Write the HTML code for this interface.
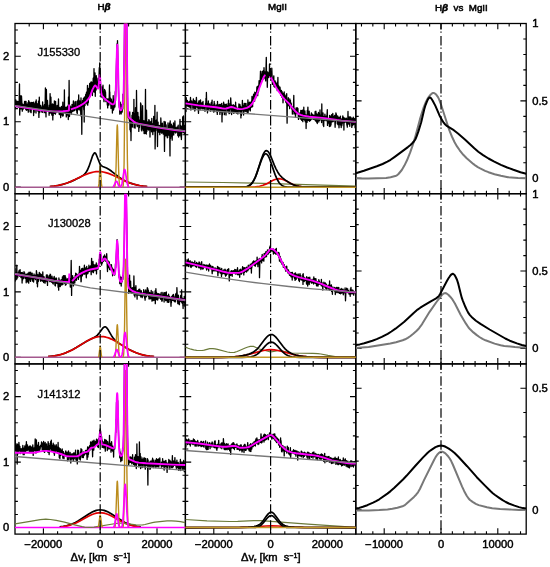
<!DOCTYPE html>
<html><head><meta charset="utf-8"><style>html,body{margin:0;padding:0;background:#fff;width:550px;height:567px;overflow:hidden}svg{display:block}</style></head>
<body><svg width="550" height="567" viewBox="0 0 550 567"><defs>
<clipPath id="cp00"><rect x="15.00" y="23.50" width="170.40" height="170.20"/></clipPath>
<clipPath id="cp01"><rect x="185.40" y="23.50" width="170.40" height="170.20"/></clipPath>
<clipPath id="cp02"><rect x="355.80" y="23.50" width="170.40" height="170.20"/></clipPath>
<clipPath id="cp10"><rect x="15.00" y="193.70" width="170.40" height="170.20"/></clipPath>
<clipPath id="cp11"><rect x="185.40" y="193.70" width="170.40" height="170.20"/></clipPath>
<clipPath id="cp12"><rect x="355.80" y="193.70" width="170.40" height="170.20"/></clipPath>
<clipPath id="cp20"><rect x="15.00" y="363.90" width="170.40" height="170.20"/></clipPath>
<clipPath id="cp21"><rect x="185.40" y="363.90" width="170.40" height="170.20"/></clipPath>
<clipPath id="cp22"><rect x="355.80" y="363.90" width="170.40" height="170.20"/></clipPath>
</defs>
<path d="M29.20 193.70L29.20 190.80M29.20 23.50L29.20 26.40M43.40 193.70L43.40 187.90M43.40 23.50L43.40 29.30M57.60 193.70L57.60 190.80M57.60 23.50L57.60 26.40M71.80 193.70L71.80 190.80M71.80 23.50L71.80 26.40M86.00 193.70L86.00 190.80M86.00 23.50L86.00 26.40M100.20 193.70L100.20 187.90M100.20 23.50L100.20 29.30M114.40 193.70L114.40 190.80M114.40 23.50L114.40 26.40M128.60 193.70L128.60 190.80M128.60 23.50L128.60 26.40M142.80 193.70L142.80 190.80M142.80 23.50L142.80 26.40M157.00 193.70L157.00 187.90M157.00 23.50L157.00 29.30M171.20 193.70L171.20 190.80M171.20 23.50L171.20 26.40M15.00 187.15L20.80 187.15M185.40 187.15L179.60 187.15M15.00 174.06L17.90 174.06M185.40 174.06L182.50 174.06M15.00 160.97L17.90 160.97M185.40 160.97L182.50 160.97M15.00 147.88L17.90 147.88M185.40 147.88L182.50 147.88M15.00 134.78L17.90 134.78M185.40 134.78L182.50 134.78M15.00 121.69L20.80 121.69M185.40 121.69L179.60 121.69M15.00 108.60L17.90 108.60M185.40 108.60L182.50 108.60M15.00 95.51L17.90 95.51M185.40 95.51L182.50 95.51M15.00 82.42L17.90 82.42M185.40 82.42L182.50 82.42M15.00 69.32L17.90 69.32M185.40 69.32L182.50 69.32M15.00 56.23L20.80 56.23M185.40 56.23L179.60 56.23M15.00 43.14L17.90 43.14M185.40 43.14L182.50 43.14M15.00 30.05L17.90 30.05M185.40 30.05L182.50 30.05M199.60 193.70L199.60 190.80M199.60 23.50L199.60 26.40M213.80 193.70L213.80 187.90M213.80 23.50L213.80 29.30M228.00 193.70L228.00 190.80M228.00 23.50L228.00 26.40M242.20 193.70L242.20 190.80M242.20 23.50L242.20 26.40M256.40 193.70L256.40 190.80M256.40 23.50L256.40 26.40M270.60 193.70L270.60 187.90M270.60 23.50L270.60 29.30M284.80 193.70L284.80 190.80M284.80 23.50L284.80 26.40M299.00 193.70L299.00 190.80M299.00 23.50L299.00 26.40M313.20 193.70L313.20 190.80M313.20 23.50L313.20 26.40M327.40 193.70L327.40 187.90M327.40 23.50L327.40 29.30M341.60 193.70L341.60 190.80M341.60 23.50L341.60 26.40M185.40 187.15L191.20 187.15M355.80 187.15L350.00 187.15M185.40 174.06L188.30 174.06M355.80 174.06L352.90 174.06M185.40 160.97L188.30 160.97M355.80 160.97L352.90 160.97M185.40 147.88L188.30 147.88M355.80 147.88L352.90 147.88M185.40 134.78L188.30 134.78M355.80 134.78L352.90 134.78M185.40 121.69L191.20 121.69M355.80 121.69L350.00 121.69M185.40 108.60L188.30 108.60M355.80 108.60L352.90 108.60M185.40 95.51L188.30 95.51M355.80 95.51L352.90 95.51M185.40 82.42L188.30 82.42M355.80 82.42L352.90 82.42M185.40 69.32L188.30 69.32M355.80 69.32L352.90 69.32M185.40 56.23L191.20 56.23M355.80 56.23L350.00 56.23M185.40 43.14L188.30 43.14M355.80 43.14L352.90 43.14M185.40 30.05L188.30 30.05M355.80 30.05L352.90 30.05M361.48 193.70L361.48 190.80M361.48 23.50L361.48 26.40M372.84 193.70L372.84 190.80M372.84 23.50L372.84 26.40M384.20 193.70L384.20 187.90M384.20 23.50L384.20 29.30M395.56 193.70L395.56 190.80M395.56 23.50L395.56 26.40M406.92 193.70L406.92 190.80M406.92 23.50L406.92 26.40M418.28 193.70L418.28 190.80M418.28 23.50L418.28 26.40M429.64 193.70L429.64 190.80M429.64 23.50L429.64 26.40M441.00 193.70L441.00 187.90M441.00 23.50L441.00 29.30M452.36 193.70L452.36 190.80M452.36 23.50L452.36 26.40M463.72 193.70L463.72 190.80M463.72 23.50L463.72 26.40M475.08 193.70L475.08 190.80M475.08 23.50L475.08 26.40M486.44 193.70L486.44 190.80M486.44 23.50L486.44 26.40M497.80 193.70L497.80 187.90M497.80 23.50L497.80 29.30M509.16 193.70L509.16 190.80M509.16 23.50L509.16 26.40M520.52 193.70L520.52 190.80M520.52 23.50L520.52 26.40M355.80 178.23L361.60 178.23M526.20 178.23L520.40 178.23M355.80 162.75L358.70 162.75M526.20 162.75L523.30 162.75M355.80 147.28L358.70 147.28M526.20 147.28L523.30 147.28M355.80 131.81L358.70 131.81M526.20 131.81L523.30 131.81M355.80 116.34L358.70 116.34M526.20 116.34L523.30 116.34M355.80 100.86L361.60 100.86M526.20 100.86L520.40 100.86M355.80 85.39L358.70 85.39M526.20 85.39L523.30 85.39M355.80 69.92L358.70 69.92M526.20 69.92L523.30 69.92M355.80 54.45L358.70 54.45M526.20 54.45L523.30 54.45M355.80 38.97L358.70 38.97M526.20 38.97L523.30 38.97M29.20 363.90L29.20 361.00M29.20 193.70L29.20 196.60M43.40 363.90L43.40 358.10M43.40 193.70L43.40 199.50M57.60 363.90L57.60 361.00M57.60 193.70L57.60 196.60M71.80 363.90L71.80 361.00M71.80 193.70L71.80 196.60M86.00 363.90L86.00 361.00M86.00 193.70L86.00 196.60M100.20 363.90L100.20 358.10M100.20 193.70L100.20 199.50M114.40 363.90L114.40 361.00M114.40 193.70L114.40 196.60M128.60 363.90L128.60 361.00M128.60 193.70L128.60 196.60M142.80 363.90L142.80 361.00M142.80 193.70L142.80 196.60M157.00 363.90L157.00 358.10M157.00 193.70L157.00 199.50M171.20 363.90L171.20 361.00M171.20 193.70L171.20 196.60M15.00 357.35L20.80 357.35M185.40 357.35L179.60 357.35M15.00 344.26L17.90 344.26M185.40 344.26L182.50 344.26M15.00 331.17L17.90 331.17M185.40 331.17L182.50 331.17M15.00 318.08L17.90 318.08M185.40 318.08L182.50 318.08M15.00 304.98L17.90 304.98M185.40 304.98L182.50 304.98M15.00 291.89L20.80 291.89M185.40 291.89L179.60 291.89M15.00 278.80L17.90 278.80M185.40 278.80L182.50 278.80M15.00 265.71L17.90 265.71M185.40 265.71L182.50 265.71M15.00 252.62L17.90 252.62M185.40 252.62L182.50 252.62M15.00 239.52L17.90 239.52M185.40 239.52L182.50 239.52M15.00 226.43L20.80 226.43M185.40 226.43L179.60 226.43M15.00 213.34L17.90 213.34M185.40 213.34L182.50 213.34M15.00 200.25L17.90 200.25M185.40 200.25L182.50 200.25M199.60 363.90L199.60 361.00M199.60 193.70L199.60 196.60M213.80 363.90L213.80 358.10M213.80 193.70L213.80 199.50M228.00 363.90L228.00 361.00M228.00 193.70L228.00 196.60M242.20 363.90L242.20 361.00M242.20 193.70L242.20 196.60M256.40 363.90L256.40 361.00M256.40 193.70L256.40 196.60M270.60 363.90L270.60 358.10M270.60 193.70L270.60 199.50M284.80 363.90L284.80 361.00M284.80 193.70L284.80 196.60M299.00 363.90L299.00 361.00M299.00 193.70L299.00 196.60M313.20 363.90L313.20 361.00M313.20 193.70L313.20 196.60M327.40 363.90L327.40 358.10M327.40 193.70L327.40 199.50M341.60 363.90L341.60 361.00M341.60 193.70L341.60 196.60M185.40 357.35L191.20 357.35M355.80 357.35L350.00 357.35M185.40 344.26L188.30 344.26M355.80 344.26L352.90 344.26M185.40 331.17L188.30 331.17M355.80 331.17L352.90 331.17M185.40 318.08L188.30 318.08M355.80 318.08L352.90 318.08M185.40 304.98L188.30 304.98M355.80 304.98L352.90 304.98M185.40 291.89L191.20 291.89M355.80 291.89L350.00 291.89M185.40 278.80L188.30 278.80M355.80 278.80L352.90 278.80M185.40 265.71L188.30 265.71M355.80 265.71L352.90 265.71M185.40 252.62L188.30 252.62M355.80 252.62L352.90 252.62M185.40 239.52L188.30 239.52M355.80 239.52L352.90 239.52M185.40 226.43L191.20 226.43M355.80 226.43L350.00 226.43M185.40 213.34L188.30 213.34M355.80 213.34L352.90 213.34M185.40 200.25L188.30 200.25M355.80 200.25L352.90 200.25M361.48 363.90L361.48 361.00M361.48 193.70L361.48 196.60M372.84 363.90L372.84 361.00M372.84 193.70L372.84 196.60M384.20 363.90L384.20 358.10M384.20 193.70L384.20 199.50M395.56 363.90L395.56 361.00M395.56 193.70L395.56 196.60M406.92 363.90L406.92 361.00M406.92 193.70L406.92 196.60M418.28 363.90L418.28 361.00M418.28 193.70L418.28 196.60M429.64 363.90L429.64 361.00M429.64 193.70L429.64 196.60M441.00 363.90L441.00 358.10M441.00 193.70L441.00 199.50M452.36 363.90L452.36 361.00M452.36 193.70L452.36 196.60M463.72 363.90L463.72 361.00M463.72 193.70L463.72 196.60M475.08 363.90L475.08 361.00M475.08 193.70L475.08 196.60M486.44 363.90L486.44 361.00M486.44 193.70L486.44 196.60M497.80 363.90L497.80 358.10M497.80 193.70L497.80 199.50M509.16 363.90L509.16 361.00M509.16 193.70L509.16 196.60M520.52 363.90L520.52 361.00M520.52 193.70L520.52 196.60M355.80 348.43L361.60 348.43M526.20 348.43L520.40 348.43M355.80 332.95L358.70 332.95M526.20 332.95L523.30 332.95M355.80 317.48L358.70 317.48M526.20 317.48L523.30 317.48M355.80 302.01L358.70 302.01M526.20 302.01L523.30 302.01M355.80 286.54L358.70 286.54M526.20 286.54L523.30 286.54M355.80 271.06L361.60 271.06M526.20 271.06L520.40 271.06M355.80 255.59L358.70 255.59M526.20 255.59L523.30 255.59M355.80 240.12L358.70 240.12M526.20 240.12L523.30 240.12M355.80 224.65L358.70 224.65M526.20 224.65L523.30 224.65M355.80 209.17L358.70 209.17M526.20 209.17L523.30 209.17M29.20 534.10L29.20 531.20M29.20 363.90L29.20 366.80M43.40 534.10L43.40 528.30M43.40 363.90L43.40 369.70M57.60 534.10L57.60 531.20M57.60 363.90L57.60 366.80M71.80 534.10L71.80 531.20M71.80 363.90L71.80 366.80M86.00 534.10L86.00 531.20M86.00 363.90L86.00 366.80M100.20 534.10L100.20 528.30M100.20 363.90L100.20 369.70M114.40 534.10L114.40 531.20M114.40 363.90L114.40 366.80M128.60 534.10L128.60 531.20M128.60 363.90L128.60 366.80M142.80 534.10L142.80 531.20M142.80 363.90L142.80 366.80M157.00 534.10L157.00 528.30M157.00 363.90L157.00 369.70M171.20 534.10L171.20 531.20M171.20 363.90L171.20 366.80M15.00 527.55L20.80 527.55M185.40 527.55L179.60 527.55M15.00 514.46L17.90 514.46M185.40 514.46L182.50 514.46M15.00 501.37L17.90 501.37M185.40 501.37L182.50 501.37M15.00 488.28L17.90 488.28M185.40 488.28L182.50 488.28M15.00 475.18L17.90 475.18M185.40 475.18L182.50 475.18M15.00 462.09L20.80 462.09M185.40 462.09L179.60 462.09M15.00 449.00L17.90 449.00M185.40 449.00L182.50 449.00M15.00 435.91L17.90 435.91M185.40 435.91L182.50 435.91M15.00 422.82L17.90 422.82M185.40 422.82L182.50 422.82M15.00 409.72L17.90 409.72M185.40 409.72L182.50 409.72M15.00 396.63L20.80 396.63M185.40 396.63L179.60 396.63M15.00 383.54L17.90 383.54M185.40 383.54L182.50 383.54M15.00 370.45L17.90 370.45M185.40 370.45L182.50 370.45M199.60 534.10L199.60 531.20M199.60 363.90L199.60 366.80M213.80 534.10L213.80 528.30M213.80 363.90L213.80 369.70M228.00 534.10L228.00 531.20M228.00 363.90L228.00 366.80M242.20 534.10L242.20 531.20M242.20 363.90L242.20 366.80M256.40 534.10L256.40 531.20M256.40 363.90L256.40 366.80M270.60 534.10L270.60 528.30M270.60 363.90L270.60 369.70M284.80 534.10L284.80 531.20M284.80 363.90L284.80 366.80M299.00 534.10L299.00 531.20M299.00 363.90L299.00 366.80M313.20 534.10L313.20 531.20M313.20 363.90L313.20 366.80M327.40 534.10L327.40 528.30M327.40 363.90L327.40 369.70M341.60 534.10L341.60 531.20M341.60 363.90L341.60 366.80M185.40 527.55L191.20 527.55M355.80 527.55L350.00 527.55M185.40 514.46L188.30 514.46M355.80 514.46L352.90 514.46M185.40 501.37L188.30 501.37M355.80 501.37L352.90 501.37M185.40 488.28L188.30 488.28M355.80 488.28L352.90 488.28M185.40 475.18L188.30 475.18M355.80 475.18L352.90 475.18M185.40 462.09L191.20 462.09M355.80 462.09L350.00 462.09M185.40 449.00L188.30 449.00M355.80 449.00L352.90 449.00M185.40 435.91L188.30 435.91M355.80 435.91L352.90 435.91M185.40 422.82L188.30 422.82M355.80 422.82L352.90 422.82M185.40 409.72L188.30 409.72M355.80 409.72L352.90 409.72M185.40 396.63L191.20 396.63M355.80 396.63L350.00 396.63M185.40 383.54L188.30 383.54M355.80 383.54L352.90 383.54M185.40 370.45L188.30 370.45M355.80 370.45L352.90 370.45M361.48 534.10L361.48 531.20M361.48 363.90L361.48 366.80M372.84 534.10L372.84 531.20M372.84 363.90L372.84 366.80M384.20 534.10L384.20 528.30M384.20 363.90L384.20 369.70M395.56 534.10L395.56 531.20M395.56 363.90L395.56 366.80M406.92 534.10L406.92 531.20M406.92 363.90L406.92 366.80M418.28 534.10L418.28 531.20M418.28 363.90L418.28 366.80M429.64 534.10L429.64 531.20M429.64 363.90L429.64 366.80M441.00 534.10L441.00 528.30M441.00 363.90L441.00 369.70M452.36 534.10L452.36 531.20M452.36 363.90L452.36 366.80M463.72 534.10L463.72 531.20M463.72 363.90L463.72 366.80M475.08 534.10L475.08 531.20M475.08 363.90L475.08 366.80M486.44 534.10L486.44 531.20M486.44 363.90L486.44 366.80M497.80 534.10L497.80 528.30M497.80 363.90L497.80 369.70M509.16 534.10L509.16 531.20M509.16 363.90L509.16 366.80M520.52 534.10L520.52 531.20M520.52 363.90L520.52 366.80M355.80 509.79L361.60 509.79M526.20 509.79L520.40 509.79M355.80 485.47L358.70 485.47M526.20 485.47L523.30 485.47M355.80 461.16L358.70 461.16M526.20 461.16L523.30 461.16M355.80 436.84L358.70 436.84M526.20 436.84L523.30 436.84M355.80 412.53L358.70 412.53M526.20 412.53L523.30 412.53M355.80 388.21L361.60 388.21M526.20 388.21L520.40 388.21" stroke="#000" stroke-width="1.1" fill="none"/>
<rect x="15.00" y="23.50" width="170.40" height="170.20" fill="none" stroke="#000" stroke-width="1.3"/>
<rect x="185.40" y="23.50" width="170.40" height="170.20" fill="none" stroke="#000" stroke-width="1.3"/>
<rect x="355.80" y="23.50" width="170.40" height="170.20" fill="none" stroke="#000" stroke-width="1.3"/>
<rect x="15.00" y="193.70" width="170.40" height="170.20" fill="none" stroke="#000" stroke-width="1.3"/>
<rect x="185.40" y="193.70" width="170.40" height="170.20" fill="none" stroke="#000" stroke-width="1.3"/>
<rect x="355.80" y="193.70" width="170.40" height="170.20" fill="none" stroke="#000" stroke-width="1.3"/>
<rect x="15.00" y="363.90" width="170.40" height="170.20" fill="none" stroke="#000" stroke-width="1.3"/>
<rect x="185.40" y="363.90" width="170.40" height="170.20" fill="none" stroke="#000" stroke-width="1.3"/>
<rect x="355.80" y="363.90" width="170.40" height="170.20" fill="none" stroke="#000" stroke-width="1.3"/>
<polyline points="15.0,102.0 15.2,100.1 15.4,102.1 15.6,108.7 15.8,99.8 16.2,105.7 16.4,101.2 17.0,103.6 17.2,101.5 17.4,106.7 17.5,104.4 17.7,105.8 17.9,101.4 18.5,107.1 18.9,104.0 19.1,105.1 19.5,84.0 19.7,115.1 20.1,104.9 20.3,105.9 20.7,103.4 20.9,95.7 21.1,108.9 21.5,96.1 22.3,111.2 22.4,103.9 22.8,109.6 23.2,105.0 23.4,108.6 23.8,104.4 24.2,106.9 24.6,101.3 25.0,108.3 25.2,102.0 25.4,107.1 25.6,101.5 25.8,109.5 26.0,101.4 26.4,110.3 27.0,104.2 27.3,109.8 27.5,104.6 27.7,107.3 28.1,102.4 28.3,112.2 28.7,100.6 29.1,108.9 29.3,102.6 29.5,104.7 29.7,102.1 30.1,111.8 30.7,102.8 31.1,112.6 31.5,102.5 31.9,108.7 32.6,102.7 33.2,107.4 33.4,102.1 33.6,115.6 33.8,107.0 34.0,106.4 34.2,112.3 34.4,105.2 34.6,109.3 34.8,103.1 35.0,107.2 35.4,101.8 36.0,113.0 36.2,99.8 36.6,109.8 36.8,106.4 36.9,107.8 37.1,103.6 37.7,110.1 37.9,105.3 38.1,111.4 38.5,101.1 38.9,117.4 39.3,97.1 39.7,112.6 39.9,105.1 40.1,111.0 40.7,105.5 40.9,109.3 41.1,106.6 41.5,111.2 41.7,109.1 41.8,111.6 42.0,107.8 42.2,112.4 42.4,112.3 42.6,102.0 42.8,108.1 43.2,105.9 43.4,109.7 43.8,106.3 44.0,106.9 44.2,112.7 44.4,104.7 44.6,110.5 44.8,112.4 45.0,111.8 45.4,88.0 45.6,112.9 45.8,107.5 46.0,116.9 46.4,89.5 46.7,110.9 47.5,100.4 47.9,110.8 48.1,109.0 48.5,108.0 48.7,108.6 48.9,107.8 49.1,115.3 49.3,105.2 49.7,113.4 50.1,93.6 50.3,106.7 50.7,112.5 50.9,97.1 51.3,113.4 51.6,108.4 51.8,115.1 52.0,108.1 52.2,110.7 52.4,103.9 52.6,105.0 52.8,119.9 53.0,108.7 53.2,115.5 53.4,104.4 53.6,108.3 53.8,106.7 54.0,113.3 54.4,100.8 54.6,113.3 54.8,107.5 55.0,111.8 55.2,109.2 55.4,114.2 55.6,101.5 55.8,113.0 56.2,107.1 56.3,111.8 56.5,110.1 56.7,111.5 57.1,105.4 57.3,111.0 57.5,110.1 57.7,110.6 57.9,109.0 58.1,110.5 58.5,98.9 58.7,109.9 59.3,114.5 59.5,107.3 59.7,114.0 60.3,107.8 60.7,117.6 60.9,107.7 61.2,115.2 61.4,106.3 61.8,114.1 62.0,109.1 62.2,110.2 62.4,108.7 62.6,116.1 62.8,102.2 63.2,115.8 63.4,107.1 63.6,111.0 63.8,108.3 64.0,111.0 64.2,109.9 64.4,89.8 64.6,112.7 64.8,106.9 65.2,113.2 65.6,107.9 65.9,113.2 66.1,107.2 66.3,116.9 66.7,109.6 66.9,115.3 67.5,106.1 67.7,113.4 68.1,108.3 68.3,119.6 68.5,97.0 68.9,112.4 69.1,80.5 69.5,116.5 69.9,105.6 70.1,110.9 70.5,106.9 70.7,112.5 70.8,107.0 71.0,107.9 71.4,114.2 71.6,109.5 71.8,112.0 72.0,104.4 72.2,107.8 72.4,105.1 72.6,107.7 72.8,107.2 73.0,111.4 73.4,100.8 73.8,110.4 74.0,108.6 74.4,110.7 74.6,107.2 74.8,108.9 75.0,101.8 75.2,107.6 75.6,103.6 75.7,108.6 75.9,101.4 76.1,109.8 76.3,110.5 76.7,107.5 76.9,112.7 77.1,107.0 77.3,113.6 77.5,101.0 77.9,109.2 78.1,99.9 78.3,107.9 78.5,107.2 78.7,95.0 78.9,109.8 79.1,106.7 79.3,108.0 79.7,100.8 79.9,105.4 80.1,103.3 80.3,110.8 80.5,102.4 80.8,115.8 81.0,97.8 81.2,114.3 81.4,103.2 81.6,108.9 81.8,134.3 82.0,109.5 82.6,100.6 83.0,106.4 83.4,98.5 83.8,109.7 84.0,97.9 84.2,122.1 84.4,97.2 84.6,102.6 84.8,96.9 85.0,105.6 85.2,97.5 85.3,102.4 85.7,94.5 85.9,102.8 86.5,92.2 86.9,103.9 87.5,85.3 87.7,105.2 88.1,88.2 88.3,102.6 88.9,88.3 89.1,97.4 89.7,83.5 89.9,92.0 90.1,85.5 90.2,96.3 90.8,82.1 91.2,92.6 91.6,81.9 91.8,86.9 92.0,87.3 92.2,86.4 92.4,95.6 92.6,83.0 92.8,82.3 93.0,89.1 93.2,78.2 93.4,91.7 93.8,85.2 94.0,68.6 94.2,92.2 94.4,77.6 94.6,74.8 94.8,78.4 95.0,73.0 95.3,96.3 95.5,76.2 95.7,89.5 95.9,84.1 96.1,90.1 96.3,75.7 96.7,88.2 96.9,78.0 97.3,85.7 97.5,84.8 97.7,86.8 97.9,81.8 98.3,87.9 98.5,78.6 98.7,87.5 99.3,67.6 99.5,77.6 99.7,62.8 101.0,96.9 101.2,95.2 101.4,96.9 101.8,86.8 102.4,97.7 103.0,85.2 103.4,98.3 103.6,96.9 104.0,101.6 104.6,89.4 104.7,98.3 105.1,90.5 105.3,98.8 105.5,91.8 105.9,101.7 106.1,98.7 106.5,101.3 107.1,98.8 107.3,104.9 107.5,101.1 107.7,107.9 108.1,98.8 108.3,101.0 108.7,99.4 108.9,105.0 109.1,103.3 109.5,84.9 109.6,101.0 109.8,92.0 110.0,103.3 110.4,97.9 111.0,108.5 111.4,99.2 112.0,105.7 112.2,102.0 112.4,113.1 112.6,103.5 113.0,110.1 113.2,95.6 113.4,110.1 113.6,108.8 113.8,109.1 114.0,99.5 114.2,107.4 114.4,100.7 114.5,100.6 114.7,101.4 114.9,106.9 115.3,91.6 115.5,101.0 115.7,95.3 116.9,46.2 117.1,43.6 117.3,51.2 117.5,40.6 118.7,100.6 119.3,107.5 119.4,104.6 119.8,114.1 120.2,102.2 120.8,110.1 121.0,106.1 121.2,113.9 121.4,106.7 121.6,109.8 121.8,104.4 122.2,112.0 122.6,100.7 122.8,109.0 123.0,94.1 123.4,104.1 124.1,66.8 124.9,3.5 126.5,3.5 127.7,111.2 128.1,117.6 128.7,114.0 128.9,118.6 129.0,113.7 129.4,121.0 129.8,111.9 130.0,129.8 130.4,118.6 130.6,131.7 130.8,120.8 131.0,140.6 131.2,125.5 131.4,125.9 131.6,121.9 131.8,122.4 132.0,115.2 132.4,127.1 132.6,112.3 132.8,118.1 133.0,113.4 133.4,120.2 133.6,114.0 133.8,121.8 133.9,99.3 134.1,127.7 134.5,113.3 135.1,128.2 135.5,107.7 135.7,123.7 135.9,119.8 136.3,121.1 136.5,90.5 136.9,124.4 137.3,126.7 137.5,121.4 137.7,124.7 137.9,112.4 138.3,124.5 138.5,125.0 138.7,116.8 138.8,131.4 139.2,120.0 139.4,127.6 140.0,121.3 140.2,123.4 140.4,122.4 140.6,103.0 140.8,124.0 141.0,103.9 141.4,130.1 141.6,128.5 141.8,130.9 142.6,105.7 142.8,128.8 143.2,126.2 143.5,130.5 143.9,120.6 144.1,133.6 144.3,125.8 144.5,133.5 144.7,124.2 145.1,133.4 145.5,89.3 145.7,124.6 145.9,120.4 146.3,134.0 146.5,110.1 146.9,131.3 147.1,122.2 147.5,127.6 147.7,122.0 147.9,129.1 148.1,122.9 148.3,129.4 148.4,123.5 148.6,130.1 148.8,119.7 149.0,124.7 149.2,120.0 149.4,129.2 149.8,122.5 150.0,137.1 150.4,121.8 150.6,124.2 150.8,122.1 151.0,127.4 151.2,121.2 151.6,131.8 151.8,118.4 152.0,128.5 152.4,128.9 152.6,124.0 152.8,134.6 153.2,125.4 153.5,130.2 153.7,116.5 154.1,131.2 154.3,119.9 154.7,125.7 154.9,105.3 155.1,148.9 155.5,125.9 155.7,127.0 156.3,120.1 156.5,128.7 156.7,122.9 156.9,130.4 157.1,112.2 157.5,146.5 157.7,123.3 157.9,123.6 158.1,122.2 158.2,127.5 158.4,126.3 158.8,132.2 159.0,125.7 159.4,132.1 159.6,125.3 159.8,134.7 160.0,128.4 160.6,132.2 160.8,117.9 161.6,133.2 161.8,129.5 162.0,132.9 162.4,123.2 162.8,130.6 163.1,127.4 163.3,134.2 163.5,127.7 163.7,127.6 163.9,130.6 164.1,121.3 164.5,151.4 164.7,131.9 165.3,121.8 165.7,135.9 166.1,124.9 166.5,134.8 166.7,129.1 166.9,136.0 167.1,130.3 167.3,137.8 167.5,130.0 167.7,137.6 168.0,122.9 168.2,130.2 168.4,126.0 169.0,135.3 169.2,125.1 169.4,129.6 169.6,122.8 170.0,155.9 170.2,120.8 170.6,138.4 170.8,132.2 171.2,136.7 171.4,124.2 171.8,132.3 172.0,130.0 172.2,140.2 172.6,126.0 173.1,134.0 173.5,122.8 173.7,135.0 173.9,130.0 174.1,131.8 174.3,128.6 174.7,130.7 174.9,120.9 175.3,132.7 175.5,133.0 175.9,127.7 176.1,132.7 176.5,128.0 176.9,131.5 177.1,127.0 177.3,129.4 177.5,130.2 177.6,129.7 177.8,135.6 178.2,125.2 178.6,137.0 178.8,129.5 179.0,134.4 179.4,130.2 179.6,135.6 180.0,119.4 180.2,127.6 180.4,128.3 180.6,125.4 180.8,126.1 181.0,136.9 181.2,130.8 181.4,139.6 181.8,128.1 182.2,125.8 182.3,131.9 182.5,129.8 182.7,116.8 183.3,132.7 183.5,115.9 183.9,132.8 184.3,128.2 184.7,134.0 184.9,125.4 185.1,131.2 185.3,125.2" fill="none" stroke="#000" stroke-width="1.3" stroke-linejoin="round" clip-path="url(#cp00)"/>
<polyline points="49.8,186.5 54.4,186.0 58.6,185.3 62.6,184.4 66.5,183.2 70.7,181.6 75.3,179.6 80.6,176.9 83.4,175.1 84.6,174.1 85.5,173.1 86.4,171.8 87.3,170.3 89.0,166.4 91.7,158.4 92.6,155.7 93.8,153.7 94.3,153.1 94.8,152.9 95.5,153.2 96.1,154.3 99.4,162.5 100.3,164.3 101.3,165.6 102.7,166.5 106.5,168.0 109.1,169.5 111.6,171.3 117.8,176.2 121.2,178.6 123.9,180.2 126.7,181.6 129.7,182.9 132.8,183.9 136.1,184.8 139.5,185.5 143.2,186.1 147.2,186.5" fill="none" stroke="#000" stroke-width="1.7" stroke-linejoin="round" clip-path="url(#cp00)"/>
<polyline points="49.8,186.5 53.9,186.1 57.7,185.5 61.3,184.7 64.8,183.7 68.3,182.5 71.9,181.1 84.0,175.3 88.6,173.4 91.3,172.6 93.7,172.0 96.1,171.6 98.5,171.5 100.9,171.6 103.3,172.0 105.7,172.6 108.4,173.4 113.0,175.3 125.1,181.1 128.7,182.5 132.2,183.7 135.7,184.7 139.3,185.5 143.1,186.1 147.2,186.5" fill="none" stroke="#e00000" stroke-width="1.7" stroke-linejoin="round" clip-path="url(#cp00)"/>
<line x1="15.0" y1="187.15" x2="185.4" y2="187.15" stroke="#a4588e" stroke-width="1.5"/>
<polyline points="98.2,186.9 98.7,185.8 99.0,183.4 99.9,168.3 100.0,166.3 100.2,165.6 100.4,166.3 100.5,168.3 101.4,183.4 101.7,185.8 102.2,186.9" fill="none" stroke="#bb8c1c" stroke-width="1.4" stroke-linejoin="round" clip-path="url(#cp00)"/>
<polyline points="114.6,186.9 114.9,186.1 115.2,184.5 115.7,177.5 116.1,165.4 116.9,131.8 117.1,126.8 117.3,125.0 117.5,126.8 117.7,131.8 118.5,165.4 118.9,177.5 119.4,184.5 119.7,186.1 120.0,186.9" fill="none" stroke="#bb8c1c" stroke-width="1.4" stroke-linejoin="round" clip-path="url(#cp00)"/>
<polyline points="122.7,186.9 123.0,186.4 123.2,185.5 123.5,181.7 124.1,163.6 124.5,125.0 125.4,15.9 125.6,3.5 125.9,3.5 126.2,26.9 126.9,121.8 127.4,160.1 127.9,181.1 128.2,185.3 128.5,186.4 128.7,186.9" fill="none" stroke="#bb8c1c" stroke-width="1.4" stroke-linejoin="round" clip-path="url(#cp00)"/>
<polyline points="15.0,106.0 41.7,110.4 52.4,111.4 56.1,111.5 59.5,111.5 63.1,111.3 66.9,110.9 67.9,110.8 69.0,110.3 69.1,104.4" fill="none" stroke="#ff00ff" stroke-width="1.9" stroke-linejoin="round" clip-path="url(#cp00)"/>
<polyline points="70.9,109.4 76.7,107.3 80.2,105.6 83.7,103.5 86.5,101.1 88.2,99.1 89.7,97.0 90.4,95.4 92.5,89.7 93.8,87.1 94.9,85.4 95.3,85.4 95.7,85.7 97.5,88.3 97.9,88.6 98.1,88.6 98.4,87.8 98.6,86.4 99.4,77.0 99.7,75.1 99.9,75.6 100.1,77.6 101.0,91.6 101.4,93.9 101.8,95.2 102.8,96.7 104.7,98.8 106.4,100.3 108.5,101.8 111.5,103.9 112.5,104.4 113.4,104.4 114.1,103.8 114.7,102.7 115.0,101.1 115.6,94.6 116.0,82.6 116.9,50.9 117.1,46.3 117.3,44.7 117.5,46.5 117.7,51.5 118.6,89.6 119.1,103.7 119.5,107.3 119.9,109.3 120.3,109.9 120.7,110.2 121.2,110.0 121.6,109.5 122.0,108.5 122.3,107.0 123.0,102.8 123.4,97.4 123.7,89.7 124.3,59.7 124.8,3.5 126.6,3.5 127.1,64.5 127.5,96.4 128.0,112.0 128.3,115.3 128.8,117.2 129.3,117.9 130.0,118.6 133.7,121.6 135.9,122.8 138.4,123.6 151.5,126.2 160.0,127.7 173.1,129.7 185.4,131.3" fill="none" stroke="#ff00ff" stroke-width="1.9" stroke-linejoin="round" clip-path="url(#cp00)"/>
<polyline points="15.0,105.7 185.4,131.2" fill="none" stroke="#787878" stroke-width="1.3" stroke-linejoin="round" clip-path="url(#cp00)"/>
<polyline points="112.8,186.9 113.4,186.5 113.9,185.9 115.6,182.0 116.0,181.5 116.4,181.3 116.7,181.4 117.1,181.9 118.5,185.2 119.2,186.3 119.7,186.7 120.2,186.8 120.6,186.6 121.0,186.2 121.6,185.0 122.1,183.2 123.9,171.7 124.3,170.0 124.6,169.5 125.0,170.0 125.4,171.6 126.7,180.7 127.4,183.9 128.1,186.0 128.5,186.5 128.9,186.9" fill="none" stroke="#ff00ff" stroke-width="1.7" stroke-linejoin="round" clip-path="url(#cp00)"/>
<polyline points="185.4,102.8 185.6,105.1 185.8,104.8 186.0,111.5 186.2,97.6 186.6,104.6 186.8,101.1 187.2,105.5 187.4,100.5 187.6,104.8 187.9,106.4 188.1,102.4 188.3,104.2 188.5,102.1 188.7,105.9 188.9,103.6 189.1,106.9 189.3,101.3 189.5,103.5 189.9,102.8 190.1,107.5 190.5,97.5 190.9,110.0 191.3,101.6 191.5,104.0 191.7,100.9 192.5,105.1 192.7,101.8 192.8,108.3 193.4,98.8 193.8,108.3 194.2,101.7 194.4,105.6 194.6,100.6 194.8,111.1 195.0,101.3 195.4,109.7 195.8,101.1 196.0,104.8 196.4,97.4 197.0,107.8 197.2,103.2 197.4,106.0 197.7,105.7 197.9,103.3 198.5,113.4 198.7,101.6 198.9,105.3 199.1,100.6 199.5,108.0 199.7,104.1 200.1,109.8 200.5,99.9 200.7,104.6 200.9,104.4 201.3,108.1 201.5,102.9 201.9,108.4 202.1,106.3 202.3,108.9 202.6,102.3 202.8,108.7 203.0,101.3 203.2,108.2 203.4,105.5 203.6,108.8 204.0,106.0 204.4,108.5 204.8,108.9 205.0,111.3 205.4,104.9 205.6,103.3 205.8,104.2 206.0,98.3 206.2,105.3 206.4,92.5 206.8,109.8 207.0,103.2 207.2,109.5 207.3,105.3 207.5,112.9 207.7,103.5 208.1,109.7 208.3,101.0 208.9,109.0 209.7,104.0 209.9,108.9 210.3,108.4 210.5,111.1 211.3,102.5 211.5,109.5 211.7,105.0 211.9,108.3 212.1,100.1 212.2,107.1 212.4,105.3 212.6,110.0 213.0,106.3 213.2,108.2 213.4,105.9 213.6,112.1 213.8,104.2 214.0,110.0 214.2,101.5 214.4,108.1 214.6,103.5 214.8,111.7 215.0,105.8 215.2,110.1 215.6,107.2 215.8,108.3 216.2,104.9 216.8,111.9 217.1,108.1 217.3,114.4 217.5,101.4 217.7,108.4 217.9,108.4 218.1,104.5 218.7,111.0 218.9,106.8 219.1,106.7 219.3,110.8 219.5,104.5 219.9,114.4 220.1,107.6 220.3,112.2 220.5,104.4 220.9,111.8 221.3,107.9 221.5,109.0 221.7,103.3 222.0,121.9 222.2,106.5 222.4,115.0 222.6,107.4 222.8,105.6 223.2,110.8 223.6,102.1 224.0,112.2 224.2,103.8 224.4,114.7 224.6,106.9 224.8,110.5 225.0,105.6 225.2,111.4 225.4,104.3 226.0,115.0 226.4,104.2 226.6,108.0 226.9,109.1 227.1,105.8 227.5,107.2 227.7,111.2 228.1,103.4 228.3,112.1 228.5,100.2 229.1,113.7 229.3,105.3 229.9,113.1 230.1,103.5 230.3,109.1 230.5,108.7 230.7,97.8 231.3,108.5 231.5,104.9 231.6,114.5 231.8,106.7 232.0,111.5 232.2,111.3 232.4,112.3 232.6,105.5 232.8,107.0 233.0,106.8 233.2,104.6 233.8,113.4 234.2,105.3 234.4,108.3 234.6,105.8 234.8,111.9 235.0,112.0 235.2,110.6 235.4,112.3 235.6,102.2 236.0,110.8 236.2,110.9 236.3,108.6 236.5,113.2 236.7,107.1 236.9,112.8 237.1,109.9 237.3,112.1 237.5,110.3 237.9,114.0 238.7,108.8 238.9,104.0 239.3,109.9 239.5,106.7 239.7,111.4 239.9,104.4 240.3,113.6 240.7,106.4 240.9,117.9 241.1,111.5 241.2,110.6 241.4,115.4 242.0,107.3 242.2,108.0 242.4,100.3 242.6,110.2 242.8,105.1 243.6,115.0 244.2,103.4 244.8,111.2 245.0,103.3 245.4,110.0 245.6,108.3 245.8,111.4 246.0,103.3 246.3,108.2 246.7,106.4 247.1,111.7 247.5,113.1 247.9,99.9 248.1,112.6 248.5,105.4 248.7,109.8 248.9,105.7 249.1,109.8 249.3,102.1 249.5,107.8 249.9,103.2 250.3,110.9 250.7,102.1 250.9,104.6 251.0,103.4 251.2,107.4 251.6,100.9 251.8,102.8 252.0,96.3 252.6,106.8 252.8,97.3 253.0,100.9 253.6,94.2 254.0,99.9 254.4,94.2 254.6,101.3 254.8,92.1 255.2,92.6 255.4,95.8 255.6,93.8 255.7,97.9 255.9,93.5 256.1,95.0 256.3,92.3 256.5,93.6 256.9,87.0 257.1,94.6 257.3,86.7 257.7,95.7 257.9,88.5 258.3,85.6 258.5,91.9 259.1,80.7 259.3,84.6 259.5,82.0 259.7,86.4 259.9,83.3 260.1,83.6 260.5,71.1 260.6,83.3 261.0,73.8 261.2,77.9 261.4,77.7 261.6,79.4 262.2,71.4 262.6,79.3 262.8,77.7 263.2,79.1 263.4,70.5 263.8,77.9 264.0,67.7 264.4,76.2 264.6,71.6 265.2,78.9 265.5,71.6 265.7,80.9 266.3,57.3 266.5,72.1 266.9,75.2 267.1,73.7 267.3,87.3 267.7,71.8 268.1,75.0 268.3,74.2 268.5,77.5 269.1,72.5 269.3,76.7 269.5,64.0 269.7,76.1 269.9,74.0 270.3,76.1 270.4,70.8 270.6,76.9 270.8,71.2 271.2,79.6 271.4,73.1 271.6,79.0 271.8,68.2 272.4,84.4 272.8,80.7 273.2,83.4 273.8,75.8 274.0,86.5 274.2,83.1 274.6,87.0 275.0,85.8 275.1,80.8 275.5,85.6 275.7,82.2 276.1,85.6 276.3,83.9 276.5,88.1 276.7,83.7 276.9,84.5 277.3,90.6 277.5,81.9 277.7,86.9 277.9,77.5 278.1,89.9 278.3,85.2 278.5,89.7 278.9,86.1 279.1,91.7 279.3,89.7 279.5,89.1 279.7,89.6 280.0,87.2 280.8,95.4 281.2,94.0 281.4,90.3 281.8,97.2 282.0,91.4 282.2,96.4 282.4,96.6 282.8,93.1 283.0,102.8 283.4,94.9 283.8,98.8 284.2,92.0 284.4,98.3 284.8,94.7 284.9,99.0 285.1,96.3 285.7,102.1 285.9,95.8 286.5,103.1 286.7,93.7 287.1,123.2 287.3,102.6 287.5,105.5 287.7,99.8 288.1,105.8 288.3,97.7 288.7,105.1 289.3,102.2 289.7,108.7 289.8,98.8 290.0,102.8 290.2,100.1 290.4,100.4 290.6,105.5 291.0,103.0 291.2,103.2 291.6,108.3 291.8,106.5 292.0,109.5 292.2,109.0 292.4,114.1 292.6,107.4 292.8,111.3 293.4,107.7 293.8,95.5 294.0,114.0 294.2,109.2 294.4,111.8 294.5,108.8 294.7,112.6 294.9,112.9 295.1,112.4 295.3,113.0 295.5,117.2 296.1,107.9 296.5,113.5 297.1,107.6 297.5,113.3 297.9,108.5 298.5,119.4 298.7,115.3 298.9,117.1 299.1,115.0 299.3,115.9 299.8,113.0 300.4,119.0 300.8,110.3 301.0,116.5 301.2,113.2 301.6,120.3 302.0,110.5 302.2,118.8 302.4,118.1 302.6,110.2 302.8,121.7 303.0,113.4 303.4,116.3 303.6,115.1 303.8,107.2 304.0,119.5 304.2,112.6 304.7,120.3 304.9,110.8 305.3,121.8 305.9,114.8 306.1,128.5 306.3,116.5 306.5,115.4 306.9,115.0 307.1,122.3 307.3,110.3 307.5,115.7 307.9,107.1 308.3,120.6 308.5,113.7 309.1,120.0 309.2,111.1 309.6,121.3 309.8,118.2 310.0,120.6 310.2,116.3 310.6,120.3 310.8,114.9 311.0,119.0 311.4,112.8 311.8,119.1 312.2,114.1 312.4,117.0 312.6,116.6 312.8,117.2 313.2,115.0 313.4,119.4 313.8,117.0 313.9,119.4 314.3,115.5 314.9,119.8 315.1,111.6 315.5,121.0 315.9,111.2 316.3,117.0 316.5,113.6 316.7,122.3 317.1,115.0 317.3,123.5 317.7,114.9 317.9,113.8 318.1,119.5 318.5,112.3 318.8,122.0 319.4,113.4 319.8,120.3 320.0,109.8 320.2,119.3 320.4,116.2 320.8,115.2 321.0,117.2 321.2,115.9 321.6,122.5 321.8,104.0 322.0,118.5 322.4,117.5 322.6,120.0 323.0,112.8 323.2,125.2 323.4,118.0 323.7,126.6 323.9,116.7 324.5,120.3 324.9,114.1 325.1,117.3 325.3,116.0 325.5,116.5 325.9,120.7 326.1,118.2 326.3,120.7 326.7,115.7 326.9,117.4 327.3,109.7 327.5,125.4 327.7,118.5 328.3,123.1 328.5,118.5 328.8,120.8 329.0,119.6 329.2,120.7 329.4,126.5 329.6,115.3 330.0,122.0 330.2,117.9 330.6,126.1 330.8,116.1 331.0,124.6 331.6,114.7 332.2,121.8 332.8,113.5 333.2,121.5 333.3,116.1 333.7,120.8 334.7,115.4 335.1,127.3 335.9,112.8 336.1,120.0 336.3,113.8 336.9,120.7 337.1,118.4 337.3,123.7 337.7,116.0 337.9,124.7 338.1,117.1 338.2,117.9 338.6,117.2 339.0,127.8 339.6,117.3 339.8,124.0 340.2,121.6 340.4,116.1 340.6,125.1 341.0,118.4 341.2,127.5 341.4,119.4 341.8,125.7 342.0,122.0 342.2,123.9 342.8,115.8 343.0,120.7 343.1,120.4 343.3,122.6 343.7,117.3 343.9,130.0 344.1,118.7 344.3,122.6 344.9,118.1 345.3,122.2 345.5,119.9 345.9,121.7 346.3,118.2 346.9,125.3 347.1,121.5 347.3,127.2 347.5,118.8 347.7,124.3 348.0,111.4 348.2,122.5 348.4,116.9 349.0,124.1 349.4,116.8 349.8,126.3 350.4,117.0 350.6,120.5 351.0,117.5 351.2,122.2 351.4,121.8 351.6,122.1 351.8,127.4 352.0,120.1 352.2,120.3 352.4,118.4 352.6,125.5 352.9,118.6 353.1,120.6 353.3,117.2 353.5,124.5 353.7,121.1 353.9,124.0 354.1,120.7 354.3,123.4 354.7,118.3 355.1,127.8 355.3,118.8 355.7,125.3" fill="none" stroke="#000" stroke-width="1.3" stroke-linejoin="round" clip-path="url(#cp01)"/>
<polyline points="185.4,103.4 198.2,105.4 215.9,107.3 221.8,108.3 223.9,108.6 225.3,108.6 226.2,108.5 229.8,107.3 231.3,107.0 232.6,107.2 235.2,108.1 237.5,108.8 239.6,109.1 241.1,109.1 242.9,108.9 246.9,107.9 248.8,106.9 251.0,105.1 252.4,103.3 254.1,100.5 255.0,98.7 256.2,96.0 261.0,83.6 263.5,77.6 264.6,75.8 264.9,75.4 265.5,75.1" fill="none" stroke="#ff00ff" stroke-width="1.9" stroke-linejoin="round" clip-path="url(#cp01)"/>
<polyline points="269.7,76.1 270.7,77.3 271.8,79.2 273.2,81.7 275.5,86.4 276.7,88.5 278.7,91.5 282.5,96.8 284.5,99.1 289.1,103.6 292.8,108.4 295.4,111.3 297.3,113.1 298.9,114.2 300.7,114.9 303.1,115.6 309.2,116.7 324.5,118.1 336.8,120.0 341.7,120.6 355.8,121.9" fill="none" stroke="#ff00ff" stroke-width="1.9" stroke-linejoin="round" clip-path="url(#cp01)"/>
<polyline points="185.4,108.9 355.8,121.8" fill="none" stroke="#787878" stroke-width="1.3" stroke-linejoin="round" clip-path="url(#cp01)"/>
<polyline points="185.4,182.0 223.0,182.5 254.1,183.1 281.2,183.9 355.8,186.2" fill="none" stroke="#6b7a3a" stroke-width="1.2" stroke-linejoin="round" clip-path="url(#cp01)"/>
<polyline points="185.4,187.2 245.9,187.1 251.8,187.1 255.7,186.8 259.6,186.3 263.0,185.3 266.4,183.9 272.1,180.8 274.3,179.7 276.7,179.0 278.9,178.7 281.2,179.0 283.6,179.7 285.8,180.8 291.4,183.8 294.7,185.3 297.9,186.2 301.4,186.7 305.2,187.0 310.6,187.1 355.8,187.2" fill="none" stroke="#e00000" stroke-width="1.7" stroke-linejoin="round" clip-path="url(#cp01)"/>
<polyline points="185.4,187.2 240.8,187.1 245.3,186.9 246.9,186.6 248.2,186.1 249.8,185.2 251.3,184.0 252.6,182.4 253.9,180.2 255.2,177.6 256.5,174.4 260.8,161.9 262.4,157.8 263.3,156.0 264.1,154.8 264.9,154.0 265.8,153.8 266.6,154.0 267.4,154.8 268.3,156.0 269.2,157.8 270.7,161.9 275.0,174.4 276.4,177.7 277.7,180.3 279.0,182.5 280.4,184.2 281.9,185.4 283.6,186.2 285.0,186.6 286.6,186.9 291.3,187.1 355.8,187.2" fill="none" stroke="#000" stroke-width="1.7" stroke-linejoin="round" clip-path="url(#cp01)"/>
<polyline points="185.4,187.2 240.9,187.1 245.4,186.8 247.0,186.5 248.4,186.0 250.0,185.1 251.4,183.8 252.8,182.0 254.1,179.7 255.4,176.9 256.7,173.4 261.1,159.8 262.8,155.2 263.8,153.2 264.7,151.8 265.5,150.9 266.4,150.7 267.2,150.8 267.9,151.4 268.7,152.3 269.5,153.7 271.0,156.8 274.3,165.1 276.0,168.8 277.8,172.2 279.7,175.0 282.2,177.6 285.4,180.1 289.8,183.0 293.7,184.9 296.3,185.8 299.0,186.4 302.0,186.8 305.6,187.0 313.8,187.1 355.8,187.2" fill="none" stroke="#000" stroke-width="1.7" stroke-linejoin="round" clip-path="url(#cp01)"/>
<line x1="185.4" y1="187.15" x2="355.8" y2="187.15" stroke="#c39a2a" stroke-width="1.5"/>
<polyline points="15.0,268.3 15.2,281.0 15.4,272.9 15.6,275.6 16.0,274.7 16.2,279.7 16.4,274.9 16.6,276.6 16.8,265.2 17.0,273.7 17.7,277.4 18.1,273.2 18.3,275.2 18.5,272.0 18.7,275.2 18.9,274.6 19.1,270.5 19.5,276.2 20.1,269.6 20.3,275.7 20.7,272.3 20.9,277.5 21.3,272.7 21.7,274.9 21.9,273.4 22.1,283.0 22.3,272.5 22.6,280.0 22.8,274.6 23.0,273.5 23.4,278.5 24.0,271.7 24.4,275.1 24.6,272.7 25.0,278.3 25.2,274.2 25.8,278.1 26.0,275.3 26.2,282.8 26.4,274.1 26.8,280.6 27.0,276.0 27.1,278.8 27.3,274.1 27.5,281.8 28.1,273.1 28.3,282.3 28.5,277.8 28.7,283.2 29.1,272.1 29.3,279.8 29.5,275.6 29.7,279.5 29.9,272.8 30.5,281.4 30.7,272.1 30.9,274.7 31.3,273.7 31.9,279.1 32.2,273.2 32.4,281.1 33.2,275.6 33.6,282.0 34.0,274.0 34.6,278.3 34.8,276.6 35.0,278.1 35.2,275.2 35.4,279.7 35.6,277.2 35.8,277.9 36.0,276.1 36.2,277.0 36.4,270.6 36.8,273.6 36.9,283.4 37.1,278.7 37.3,279.5 37.5,286.8 37.9,274.7 38.3,281.5 38.7,280.2 39.3,272.5 39.5,278.7 39.7,276.1 39.9,277.8 40.1,273.4 40.3,276.2 40.5,274.5 40.7,281.3 40.9,278.9 41.1,280.6 41.3,274.3 41.7,279.3 41.8,279.8 42.0,277.2 42.4,281.2 42.8,271.9 43.0,279.4 43.6,282.5 44.0,276.6 44.2,278.9 44.4,278.1 44.8,278.7 45.0,283.3 45.4,278.9 45.6,281.4 45.8,280.6 46.0,281.6 46.4,275.0 46.5,280.5 47.3,274.9 47.5,285.4 47.7,277.3 47.9,281.0 48.5,276.9 48.9,279.5 49.1,275.6 49.3,280.8 49.7,277.9 49.9,281.7 50.1,274.2 50.3,277.4 50.5,274.3 50.9,281.4 51.3,278.4 51.4,282.1 51.6,279.5 51.8,280.6 52.0,276.1 52.2,282.4 52.4,277.8 52.6,282.4 52.8,283.4 53.0,282.7 53.2,284.0 53.6,278.0 53.8,280.4 54.2,276.4 55.0,285.4 55.2,279.0 55.4,285.9 55.6,279.3 55.8,281.1 56.0,278.0 56.3,283.4 56.5,278.1 56.7,282.8 57.1,281.1 57.5,281.8 57.7,283.6 57.9,281.9 58.1,287.2 58.3,281.8 58.7,290.2 58.9,278.0 59.1,286.8 59.3,281.1 59.7,284.4 59.9,280.1 60.3,286.5 60.5,282.4 60.9,281.4 61.1,285.1 61.2,280.0 61.4,279.7 61.6,284.9 62.0,282.0 62.2,283.3 62.4,277.0 62.8,284.6 63.0,284.0 63.4,275.6 63.6,282.4 64.0,280.5 64.2,282.0 64.4,275.7 64.6,283.4 64.8,279.9 65.0,281.5 65.2,275.7 65.4,285.2 65.6,277.1 65.8,282.3 65.9,281.9 66.1,284.6 66.5,280.5 66.7,279.3 66.9,280.0 67.1,278.7 67.5,282.0 67.7,279.8 68.1,282.3 68.5,278.5 68.9,283.1 69.3,276.8 69.5,282.7 69.9,282.4 70.1,278.7 70.3,287.1 70.7,278.8 70.8,284.3 71.2,260.5 71.6,295.4 71.8,276.3 72.0,282.9 72.2,276.0 72.4,283.3 72.6,275.6 72.8,280.7 73.0,277.5 73.4,285.9 73.8,278.8 74.2,282.6 74.4,277.7 74.8,283.0 75.2,275.5 75.4,279.0 75.7,273.1 76.1,280.0 76.3,280.2 76.7,273.9 76.9,275.4 77.1,274.4 77.3,277.0 77.5,274.8 78.3,279.4 78.5,276.2 78.7,277.8 78.9,277.3 79.1,272.7 79.3,274.7 79.5,266.3 79.9,275.8 80.1,271.8 80.5,275.6 80.6,270.5 81.0,281.8 81.2,281.6 81.6,269.0 82.0,276.1 82.2,268.5 82.4,275.6 82.8,268.5 83.2,272.5 83.6,269.7 83.8,274.2 84.4,265.2 84.8,274.0 85.0,269.3 85.2,272.3 85.7,267.8 86.3,277.8 86.7,266.4 86.9,272.4 87.3,273.8 87.5,268.8 87.9,273.5 88.1,268.4 88.3,269.4 88.5,268.0 88.7,271.8 88.9,265.2 89.5,271.3 89.9,267.4 90.1,270.5 90.2,266.7 90.4,268.0 90.6,265.9 91.2,274.7 91.6,258.3 91.8,268.9 92.0,267.8 92.2,270.6 92.4,270.3 92.6,271.8 93.0,261.4 93.4,272.7 93.8,265.0 94.2,270.8 94.6,264.8 95.0,266.5 95.1,265.4 95.3,267.1 95.5,266.4 95.7,270.6 95.9,264.3 96.1,267.8 96.3,262.8 96.5,273.9 96.7,266.3 96.9,265.5 97.1,269.1 97.3,266.9 97.5,266.0 97.7,266.4 97.9,269.3 98.5,263.4 98.7,266.0 98.9,265.1 99.3,259.1 99.5,262.4 99.9,254.3 100.0,256.0 100.4,252.4 100.8,258.6 101.0,255.3 101.2,263.9 101.4,258.6 101.6,265.1 102.0,259.3 102.4,263.0 102.8,259.1 103.0,260.2 103.2,259.9 103.4,256.7 103.6,261.3 104.0,260.4 104.2,255.6 104.4,255.9 104.6,255.0 104.7,258.6 104.9,258.9 105.1,256.2 105.3,259.8 105.5,256.6 105.7,257.2 105.9,261.4 106.1,260.0 106.3,260.4 106.7,253.7 107.5,271.5 107.7,262.4 107.9,265.6 108.1,260.8 108.3,267.5 108.7,263.4 108.9,267.6 109.3,261.9 109.5,268.9 109.6,269.3 109.8,264.1 110.2,269.9 110.4,267.8 110.8,268.3 111.0,266.1 111.2,267.9 111.4,264.6 111.8,268.6 112.2,267.8 112.6,275.8 112.8,270.5 113.0,273.0 113.2,269.2 113.4,273.7 113.6,272.7 113.8,273.4 114.0,269.8 114.2,273.9 114.4,275.0 114.5,273.1 114.7,274.8 115.3,270.1 115.5,263.8 115.7,267.8 117.1,239.6 118.1,250.8 118.9,275.3 119.3,278.0 119.6,274.7 119.8,283.7 120.2,276.6 120.4,282.2 120.6,280.2 120.8,281.1 121.0,279.8 121.2,286.0 121.4,277.4 121.6,283.0 121.8,277.9 122.2,281.4 122.6,275.9 122.8,279.4 123.2,274.7 123.4,275.5 124.3,242.3 124.9,197.2 125.5,173.7 125.9,173.7 127.5,273.4 127.9,282.4 128.3,278.4 128.7,293.3 128.9,289.0 129.2,285.6 129.4,285.7 129.6,275.1 129.8,291.2 130.0,285.7 130.2,292.4 130.6,281.1 130.8,287.7 131.4,288.0 131.6,293.2 131.8,289.8 132.0,290.7 132.2,290.0 132.4,287.6 132.8,293.1 133.0,293.2 133.2,292.2 133.4,289.3 133.6,293.7 133.9,275.9 134.3,295.4 134.7,290.0 134.9,296.9 135.1,288.8 135.3,287.2 135.5,291.3 135.7,290.9 135.9,285.7 136.3,294.9 136.5,292.6 136.9,293.0 137.1,299.2 137.3,290.7 137.5,294.5 137.7,292.4 137.9,293.3 138.1,290.6 138.5,295.2 138.8,289.3 139.0,294.1 139.2,289.5 139.6,294.8 139.8,289.2 140.0,295.7 140.2,290.7 140.4,294.9 140.6,292.3 140.8,297.0 141.2,290.7 141.8,295.0 142.0,292.6 142.2,297.7 142.6,294.4 142.8,296.3 143.2,294.2 143.5,294.7 143.7,289.6 143.9,291.4 144.1,290.8 144.7,298.3 144.9,295.3 145.1,300.1 145.7,290.0 146.1,296.9 146.3,293.2 146.5,296.7 146.7,292.3 146.9,294.9 147.3,287.6 147.5,292.2 147.7,288.3 148.1,295.3 148.4,290.1 148.6,296.4 148.8,294.7 149.0,298.9 149.4,292.5 150.0,298.9 150.4,292.9 150.8,294.4 151.0,298.7 151.2,290.4 151.4,295.4 151.6,295.6 151.8,293.3 152.0,301.2 152.2,295.5 152.4,295.7 152.8,291.7 153.2,300.5 153.5,294.9 154.1,300.1 154.3,294.1 154.7,295.7 154.9,300.4 155.1,290.8 155.3,303.7 155.9,288.7 156.3,299.1 156.5,292.2 156.7,299.5 156.9,295.3 157.3,298.9 157.5,293.6 157.7,300.0 158.6,293.7 159.0,297.8 159.4,297.3 159.6,294.1 159.8,297.0 160.0,295.3 160.4,298.8 160.6,294.1 160.8,299.4 161.2,292.5 161.4,299.6 161.6,296.8 161.8,301.1 162.0,298.1 162.2,300.9 162.9,292.5 163.1,296.1 163.3,295.1 163.7,297.7 163.9,293.9 164.1,302.0 164.5,292.6 164.9,298.6 165.1,292.7 165.3,298.4 165.7,300.6 166.1,298.0 166.3,291.9 166.7,300.3 167.1,298.1 167.3,302.2 167.7,295.7 167.8,296.7 168.0,296.0 168.4,302.4 168.6,294.2 169.0,302.0 169.2,297.3 169.4,297.8 169.6,296.4 170.0,299.3 170.2,297.4 170.6,298.2 171.0,306.3 171.2,300.3 171.4,302.7 171.6,297.5 171.8,296.3 172.2,299.3 172.6,295.1 172.7,300.4 172.9,295.9 173.3,297.7 173.5,294.5 173.7,300.5 173.9,296.0 174.1,301.1 174.3,300.7 174.5,301.6 174.7,297.4 174.9,301.3 175.1,298.6 175.3,301.9 175.7,293.8 175.9,298.2 176.1,294.4 176.3,297.4 176.5,293.0 176.7,298.7 176.9,287.6 177.5,302.0 177.6,301.0 177.8,303.7 178.0,299.7 178.2,302.2 178.4,295.2 178.8,303.9 179.2,301.0 179.4,304.7 179.6,299.8 179.8,299.6 180.0,301.7 180.2,301.1 180.6,295.7 180.8,295.5 181.0,299.6 181.2,297.4 181.4,301.8 181.6,289.8 181.8,302.4 182.0,297.8 182.2,303.3 182.7,298.4 183.1,308.5 183.3,299.6 183.5,299.4 183.7,302.4 183.9,299.8 184.1,300.9 184.3,296.3 184.9,306.3 185.3,297.0" fill="none" stroke="#000" stroke-width="1.3" stroke-linejoin="round" clip-path="url(#cp10)"/>
<polyline points="48.0,356.7 54.8,355.9 60.7,354.5 63.5,353.7 66.3,352.6 71.9,350.0 76.3,347.5 86.7,341.2 94.0,337.5 95.8,336.4 97.2,335.3 98.5,333.9 102.9,328.0 104.0,327.1 105.0,326.8 105.6,326.9 106.2,327.2 107.4,328.6 108.5,330.3 112.1,336.6 113.4,338.4 114.7,339.9 116.1,341.2 117.9,342.6 124.8,346.9 128.7,349.2 132.2,351.0 135.5,352.5 138.9,353.8 142.3,354.8 146.0,355.6 149.8,356.2 154.1,356.7" fill="none" stroke="#000" stroke-width="1.7" stroke-linejoin="round" clip-path="url(#cp10)"/>
<polyline points="48.0,356.7 52.9,356.2 57.3,355.4 61.3,354.4 65.3,353.0 69.1,351.4 73.1,349.4 76.9,347.2 86.0,341.6 90.8,339.1 93.5,337.9 96.1,337.2 98.6,336.7 101.1,336.5 103.5,336.7 106.0,337.2 108.6,337.9 111.3,339.1 116.1,341.6 125.2,347.2 129.0,349.4 133.0,351.4 136.8,353.0 140.8,354.4 144.8,355.4 149.2,356.2 154.1,356.7" fill="none" stroke="#e00000" stroke-width="1.7" stroke-linejoin="round" clip-path="url(#cp10)"/>
<line x1="15.0" y1="357.35" x2="185.4" y2="357.35" stroke="#a4588e" stroke-width="1.5"/>
<polyline points="98.4,357.1 98.8,356.4 99.0,355.1 99.9,347.6 100.2,346.2 100.5,347.6 101.4,355.1 101.6,356.4 102.0,357.1" fill="none" stroke="#bb8c1c" stroke-width="1.4" stroke-linejoin="round" clip-path="url(#cp10)"/>
<polyline points="114.7,357.1 115.1,356.6 115.3,355.6 115.7,351.9 116.9,328.2 117.1,325.6 117.3,324.6 117.5,325.6 117.7,328.2 118.9,351.9 119.3,355.6 119.5,356.6 119.9,357.1" fill="none" stroke="#bb8c1c" stroke-width="1.4" stroke-linejoin="round" clip-path="url(#cp10)"/>
<polyline points="123.0,357.1 123.4,356.1 123.7,353.8 124.2,343.1 124.6,323.7 125.3,270.7 125.5,262.2 125.7,259.2 125.9,262.2 126.1,270.7 126.9,323.7 127.3,343.1 127.8,353.8 128.1,356.1 128.5,357.1" fill="none" stroke="#bb8c1c" stroke-width="1.4" stroke-linejoin="round" clip-path="url(#cp10)"/>
<polyline points="15.0,274.0 28.8,276.4 43.5,278.8 53.7,280.8 62.8,281.8 69.1,282.1 69.3,273.6" fill="none" stroke="#ff00ff" stroke-width="1.9" stroke-linejoin="round" clip-path="url(#cp10)"/>
<polyline points="72.1,281.2 75.6,277.4 77.2,275.9 79.3,274.4 82.0,272.9 85.1,271.3 86.8,270.6 89.5,269.8 96.8,268.3 97.6,268.0 98.0,267.7 98.6,266.6 99.0,264.8 99.9,254.0 100.3,252.2 100.6,253.4 101.3,259.4 101.7,260.9 101.9,261.1 102.3,260.9 103.7,259.3 104.4,258.7 105.0,258.5 105.5,258.8 109.9,265.9 113.2,273.6 113.8,274.4 114.1,274.4 114.3,274.3 114.7,273.6 115.1,272.5 115.6,268.3 116.0,261.7 116.8,244.1 117.0,241.5 117.2,240.6 117.4,241.6 117.6,244.4 118.6,268.6 119.2,277.1 119.7,279.7 120.2,281.2 120.6,281.7 121.1,282.0 121.5,281.8 121.8,281.3 122.4,279.2 123.0,275.4 123.4,270.2 123.7,263.4 124.3,240.0 125.3,174.6 125.4,173.7 126.0,173.7 127.0,246.6 127.4,269.1 128.0,282.7 128.3,285.9 128.9,287.9 129.8,289.0 132.5,291.0 135.9,292.3 139.9,293.4 145.8,294.5 156.9,296.0 185.4,300.3" fill="none" stroke="#ff00ff" stroke-width="1.9" stroke-linejoin="round" clip-path="url(#cp10)"/>
<polyline points="15.0,273.7 52.5,280.5 71.9,284.2 85.0,286.9 90.4,287.9 99.6,289.1 146.1,295.0 185.4,300.4" fill="none" stroke="#787878" stroke-width="1.3" stroke-linejoin="round" clip-path="url(#cp10)"/>
<polyline points="113.2,357.1 113.9,356.6 114.4,355.7 116.1,350.5 116.4,349.8 116.8,349.5 117.1,349.7 117.5,350.4 118.9,354.8 119.6,356.4 120.1,356.9 120.6,357.0 121.1,356.8 121.6,356.1 122.1,354.5 122.6,351.9 124.3,335.6 124.7,333.3 124.9,332.7 125.1,332.5 125.4,333.2 125.8,335.4 127.1,348.3 127.7,352.9 128.4,355.8 128.8,356.6 129.3,357.1" fill="none" stroke="#ff00ff" stroke-width="1.7" stroke-linejoin="round" clip-path="url(#cp10)"/>
<polyline points="185.4,263.5 185.8,259.4 186.2,265.5 186.4,262.6 186.6,263.7 186.8,262.4 187.0,265.6 187.6,259.9 188.1,265.7 188.3,258.9 188.5,266.6 188.7,261.1 189.1,264.8 189.5,264.5 189.7,262.6 189.9,263.6 190.1,260.7 190.3,266.8 190.5,263.5 190.7,265.2 190.9,262.2 191.1,267.5 191.5,263.4 191.7,266.5 191.9,262.0 192.1,263.6 192.3,262.1 192.5,262.2 192.7,265.8 193.4,262.7 193.6,265.6 193.8,265.4 194.0,265.8 194.6,264.7 194.8,260.8 195.0,265.5 195.4,263.8 195.6,266.5 196.2,263.5 196.4,267.3 196.6,262.5 196.8,265.7 197.2,263.6 197.4,263.9 197.5,263.3 197.7,264.9 197.9,265.3 198.1,264.8 198.3,267.2 198.5,263.2 198.9,267.8 199.1,261.8 199.5,267.8 199.7,262.3 199.9,266.4 200.1,263.9 200.3,267.4 200.5,266.4 200.9,269.5 201.7,261.7 201.9,268.1 202.1,264.4 202.3,267.4 202.4,266.7 202.8,269.2 203.0,267.9 203.2,268.8 203.4,266.6 203.6,267.9 203.8,264.4 204.0,266.5 204.4,264.8 205.0,267.2 205.2,267.3 205.4,265.1 205.8,266.5 206.0,265.8 206.2,268.3 206.4,266.4 206.6,270.0 206.8,265.0 207.0,267.3 207.3,266.5 207.7,268.1 207.9,265.5 208.3,269.5 208.5,267.1 208.7,271.0 208.9,264.9 209.1,268.3 209.5,264.0 209.9,268.0 210.5,265.3 210.7,268.6 211.1,266.2 211.3,268.0 211.5,267.2 211.7,267.5 212.2,273.6 212.6,266.4 212.8,271.0 213.0,266.7 213.4,269.2 213.8,269.0 214.0,270.8 214.8,267.9 215.0,270.8 215.2,268.0 215.4,270.9 215.8,268.9 216.2,269.9 216.4,269.2 216.8,271.0 217.1,268.2 217.3,270.2 217.5,266.5 217.9,275.6 218.3,267.2 218.9,272.0 219.1,268.0 219.7,269.8 219.9,268.0 220.3,273.1 220.5,269.4 220.9,271.2 221.1,269.6 221.5,276.5 221.7,268.3 222.0,271.5 222.2,272.0 222.4,271.0 222.6,273.8 222.8,271.0 223.4,273.4 223.6,273.0 223.8,269.8 224.0,273.6 224.2,271.0 224.6,273.6 225.0,269.1 225.2,275.1 225.4,270.0 225.6,276.2 226.0,271.6 226.4,275.2 226.7,270.9 226.9,273.4 227.1,270.1 227.3,274.0 227.5,269.4 227.7,272.4 228.1,271.6 228.3,272.2 228.7,268.7 229.3,280.9 229.7,272.9 229.9,273.1 230.3,272.9 230.5,272.0 230.7,275.4 231.1,270.9 231.5,274.0 231.6,270.6 232.2,276.3 232.4,271.4 232.6,273.0 232.8,271.0 233.2,272.8 233.6,270.7 234.0,273.2 234.8,269.4 235.0,273.0 235.2,270.5 235.4,274.0 236.0,269.6 236.3,273.6 236.5,271.7 237.3,274.5 237.5,267.7 238.1,274.8 238.9,271.2 239.1,274.5 239.5,269.8 239.7,277.3 239.9,271.0 240.1,274.2 240.7,269.1 240.9,273.5 241.2,270.2 241.4,274.1 241.6,271.9 241.8,273.4 242.0,273.0 242.6,266.7 243.2,271.4 243.4,271.5 243.6,270.6 243.8,274.9 244.0,267.6 244.4,272.3 245.0,267.7 245.2,270.6 245.4,269.0 245.8,271.4 246.0,269.1 246.1,269.3 246.3,272.0 246.5,267.1 246.7,271.8 246.9,268.4 247.1,270.7 247.5,269.8 247.7,267.1 247.9,270.6 248.3,265.2 248.5,269.2 248.9,266.4 249.1,268.6 249.3,266.5 249.5,268.4 249.7,265.8 250.1,268.5 250.3,264.1 250.5,266.7 250.9,267.9 251.2,266.1 251.4,273.0 251.6,263.6 251.8,267.9 252.2,263.0 252.4,264.7 252.8,261.8 253.0,264.0 253.2,263.6 253.4,264.4 253.6,260.9 254.0,265.2 254.2,262.7 254.4,265.6 254.6,261.4 255.2,263.7 255.4,266.1 255.6,261.2 255.9,262.9 256.1,260.9 256.3,263.3 256.7,263.1 256.9,264.1 257.1,257.1 257.3,261.7 257.5,261.8 257.7,259.4 257.9,266.7 258.1,260.8 258.3,260.6 258.5,262.3 258.7,259.5 258.9,263.9 259.3,258.3 259.5,277.7 259.9,259.9 260.1,259.5 260.3,260.5 260.5,258.6 260.6,258.7 260.8,261.4 261.0,259.0 261.6,262.9 261.8,256.4 262.0,258.4 262.2,254.4 262.4,260.6 262.8,257.0 263.0,257.7 263.2,256.3 263.8,261.1 264.2,253.3 264.4,254.9 264.6,253.6 264.8,257.0 265.0,256.1 265.2,257.2 265.9,251.6 266.1,256.1 266.3,253.0 266.5,256.7 266.7,251.9 266.9,254.4 267.5,249.8 268.1,254.2 268.3,251.3 268.5,253.1 269.1,249.6 269.3,251.9 269.7,246.9 269.9,252.7 270.3,245.7 270.4,250.6 270.6,248.3 270.8,251.8 271.0,248.6 271.2,249.7 271.4,248.6 271.6,250.8 272.0,250.0 272.2,250.5 272.4,250.4 272.6,249.7 272.8,251.5 273.2,248.8 273.4,254.0 273.6,249.6 274.2,252.9 274.6,252.1 274.8,250.3 275.0,253.4 275.1,249.4 275.3,253.0 275.7,249.9 275.9,254.3 276.3,248.4 276.5,253.4 276.7,251.8 277.5,254.8 277.9,252.8 278.1,254.8 278.3,252.3 278.9,257.5 279.1,253.0 279.5,261.2 280.2,256.5 280.4,259.7 280.8,258.6 281.0,262.5 281.2,259.5 281.4,261.5 281.6,261.0 281.8,261.8 282.0,264.3 282.2,264.4 282.4,262.9 282.8,264.3 283.0,262.3 283.4,267.4 283.6,266.2 284.0,266.6 284.2,264.6 284.9,268.4 285.1,266.6 285.7,271.1 285.9,269.3 286.1,270.4 286.7,266.1 287.1,271.0 287.3,269.7 287.7,272.7 287.9,271.9 288.3,273.3 288.5,269.8 288.7,273.5 288.9,273.6 289.1,271.6 289.5,275.3 289.8,272.6 290.2,273.1 290.6,275.6 290.8,272.4 291.0,276.8 291.2,274.6 291.4,276.8 292.0,272.4 292.2,280.0 292.4,272.3 292.6,276.5 293.0,273.6 293.2,276.6 293.6,274.4 294.0,276.8 294.2,275.2 294.4,275.4 294.5,278.5 294.7,273.3 295.1,280.4 295.5,272.9 296.1,279.4 296.5,274.5 297.1,277.9 297.3,275.1 297.5,277.1 298.1,273.9 298.7,280.3 298.9,275.1 299.1,275.6 299.4,281.5 300.0,273.6 300.2,276.4 300.6,276.1 300.8,275.3 301.0,279.8 301.2,279.4 301.4,280.0 301.6,278.5 301.8,278.7 302.0,277.9 302.2,280.0 302.4,278.0 302.6,279.8 302.8,274.4 303.0,284.4 303.2,273.7 303.6,280.7 303.8,276.8 304.2,281.5 304.3,277.6 304.5,279.0 304.7,278.2 304.9,280.5 305.3,278.2 305.7,280.2 305.9,279.4 306.1,281.0 306.3,278.6 306.5,284.0 306.7,276.6 306.9,279.3 307.3,277.9 307.7,286.0 308.1,278.8 308.3,279.1 308.5,277.3 308.9,282.4 309.1,279.3 309.2,284.5 309.8,277.2 310.0,280.6 310.6,281.8 311.0,279.3 311.2,282.8 311.4,280.9 311.6,283.2 311.8,280.9 312.0,280.3 312.2,282.9 313.0,279.1 313.6,284.0 313.8,276.9 314.1,280.6 314.3,278.4 314.5,282.2 314.9,278.6 315.1,283.4 315.3,280.5 315.7,281.4 315.9,278.6 316.5,285.8 316.9,283.1 317.5,281.8 317.9,286.1 318.1,282.3 318.3,281.9 318.5,284.9 318.7,284.2 318.8,279.6 319.8,284.2 320.0,282.3 320.4,284.3 320.6,283.6 320.8,283.8 321.0,282.1 321.2,285.6 321.4,279.3 321.6,285.9 322.0,282.4 322.2,285.8 322.6,284.4 322.8,290.0 323.0,285.5 323.2,286.5 323.9,282.2 324.5,285.3 324.7,283.4 324.9,287.3 325.3,282.9 325.7,288.3 326.1,284.3 326.3,284.9 326.5,284.1 326.7,289.4 327.1,286.8 327.3,288.2 327.5,286.5 327.9,286.0 328.1,286.9 328.5,285.4 328.8,289.3 329.0,284.7 329.2,286.7 329.4,286.4 329.6,281.0 329.8,290.3 330.0,286.4 330.4,289.8 330.6,285.3 330.8,288.3 331.4,284.9 331.6,291.4 332.0,286.9 332.4,294.3 332.6,288.1 333.0,287.1 333.3,289.5 333.5,288.4 333.9,289.8 334.3,288.4 334.5,291.0 334.7,287.3 335.1,287.9 335.3,294.5 335.5,289.2 335.9,291.4 336.1,288.6 336.3,292.5 336.5,287.5 336.9,290.8 337.1,287.3 337.7,292.5 338.1,287.6 338.4,292.7 338.8,287.5 339.4,293.3 339.6,293.4 340.2,289.7 340.6,293.8 340.8,291.6 341.0,293.3 341.2,288.4 341.4,293.2 341.8,289.4 342.0,292.8 342.2,289.2 342.8,292.9 343.1,289.2 343.3,294.8 343.5,290.1 343.9,292.7 344.1,291.6 344.5,291.5 344.7,289.9 344.9,293.1 345.1,287.8 345.5,300.8 345.9,291.6 346.1,292.4 346.7,288.1 346.9,291.9 347.1,290.2 347.3,292.5 347.7,288.9 347.9,292.0 348.2,292.5 348.6,290.7 349.0,294.0 349.2,291.3 349.4,293.4 350.0,291.5 350.2,296.3 350.4,288.8 350.6,290.5 351.0,287.4 351.2,293.8 351.8,290.4 352.0,293.1 352.2,292.7 352.4,290.2 352.6,293.8 352.9,290.2 353.1,292.7 353.3,290.8 353.7,295.2 353.9,293.3 354.1,292.7 354.3,292.9 354.7,291.6 355.1,292.0 355.3,293.1 355.5,292.8 355.7,293.1" fill="none" stroke="#000" stroke-width="1.3" stroke-linejoin="round" clip-path="url(#cp11)"/>
<polyline points="185.4,262.3 216.7,269.8 223.9,271.8 226.9,272.5 229.1,272.8 231.2,273.0 235.5,272.9 239.6,272.7 241.1,272.2 242.9,271.4 247.9,268.3 250.4,266.6 261.8,258.1 265.1,255.4 266.3,254.2 268.9,250.8 270.1,249.5 271.1,249.0 272.0,248.9 272.9,249.3 274.0,249.9 276.2,252.1 276.9,252.8 278.9,256.2 281.4,260.9 284.1,266.6 285.3,268.6 286.9,270.7 288.4,272.3 289.7,273.4 291.4,274.4 294.6,275.8 298.5,277.1 304.1,278.7 312.3,280.7 316.1,281.8 319.6,283.2 328.6,287.0 334.9,289.3 337.4,290.1 339.9,290.6 347.3,291.7 351.7,292.1 355.8,292.2" fill="none" stroke="#ff00ff" stroke-width="1.9" stroke-linejoin="round" clip-path="url(#cp11)"/>
<polyline points="185.4,272.1 206.5,275.6 226.5,278.7 245.5,281.4 263.7,283.7 288.8,286.5 312.8,288.8 334.9,290.7 355.8,292.2" fill="none" stroke="#787878" stroke-width="1.3" stroke-linejoin="round" clip-path="url(#cp11)"/>
<polyline points="185.4,347.1 188.2,348.2 191.0,349.2 193.8,349.8 196.7,350.3 199.7,350.5 202.2,350.5 204.2,350.1 209.7,348.7 211.3,348.5 212.9,348.6 215.0,348.8 217.4,349.3 227.5,352.0 229.9,352.4 232.1,352.5 234.4,352.3 237.1,351.5 239.5,350.5 245.2,348.0 247.9,347.0 250.3,346.4 252.4,346.3 253.4,346.4 254.4,346.8 259.2,349.0 268.9,351.5 270.1,351.8 272.4,351.7 277.7,350.7 279.8,350.6 282.4,351.0 288.5,352.6 291.3,353.0 312.8,353.3 317.9,353.6 320.9,354.0 327.9,355.4 335.1,356.6 338.2,357.0 340.2,357.1 348.0,357.0 352.1,356.8 355.8,356.5" fill="none" stroke="#6b7a3a" stroke-width="1.2" stroke-linejoin="round" clip-path="url(#cp11)"/>
<polyline points="185.4,357.4 221.8,357.3 229.4,357.1 235.4,356.7 240.9,356.1 246.1,355.1 250.6,354.0 259.8,351.4 263.6,350.5 267.3,349.9 270.9,349.7 274.4,349.9 278.2,350.5 282.0,351.4 291.2,354.0 295.7,355.1 300.9,356.1 306.3,356.7 312.2,357.1 319.8,357.3 355.8,357.4" fill="none" stroke="#e00000" stroke-width="1.7" stroke-linejoin="round" clip-path="url(#cp11)"/>
<polyline points="185.4,357.4 242.1,357.3 247.3,357.2 250.8,356.8 252.6,356.4 254.3,355.8 255.8,355.1 257.3,354.1 258.8,353.0 260.3,351.5 265.3,345.9 267.2,344.0 268.3,343.2 269.4,342.6 270.3,342.3 271.3,342.2 272.3,342.3 273.3,342.6 274.3,343.2 275.4,344.0 277.3,345.9 282.3,351.5 283.8,352.9 285.3,354.1 286.8,355.1 288.3,355.8 290.0,356.4 291.8,356.8 295.2,357.2 300.4,357.3 355.8,357.4" fill="none" stroke="#000" stroke-width="1.7" stroke-linejoin="round" clip-path="url(#cp11)"/>
<polyline points="185.4,357.4 217.2,357.3 229.0,357.1 234.1,356.8 238.6,356.4 242.7,355.7 246.2,354.9 249.0,354.1 251.4,353.1 253.5,351.9 255.5,350.5 257.4,348.8 259.2,346.7 265.0,339.1 267.0,336.8 268.1,335.8 269.2,335.1 270.2,334.7 271.3,334.5 272.3,334.6 273.3,335.1 274.4,335.8 275.6,336.9 277.6,339.2 283.3,346.8 285.1,348.9 287.0,350.6 288.9,352.0 291.0,353.2 293.3,354.2 295.9,355.0 299.3,355.8 303.3,356.4 307.7,356.8 312.8,357.1 324.5,357.3 355.8,357.4" fill="none" stroke="#000" stroke-width="1.7" stroke-linejoin="round" clip-path="url(#cp11)"/>
<line x1="185.4" y1="357.35" x2="355.8" y2="357.35" stroke="#c39a2a" stroke-width="1.5"/>
<polyline points="15.0,451.2 15.2,436.1 15.4,449.5 15.8,445.5 16.4,451.1 16.8,444.0 17.2,464.1 17.5,444.1 17.9,453.9 18.1,449.1 18.3,452.2 18.7,450.2 18.9,442.3 19.5,450.5 19.9,446.4 20.1,453.6 20.3,449.6 20.5,451.7 20.7,449.3 20.9,452.6 21.1,448.7 21.5,449.7 21.7,451.9 21.9,450.0 22.3,452.8 22.4,448.1 22.6,452.1 22.8,445.4 23.2,454.7 23.4,448.0 23.6,452.0 24.0,448.7 24.2,454.7 24.8,446.0 25.0,452.3 25.2,446.6 25.4,452.0 25.6,449.8 25.8,451.3 26.0,444.5 26.2,447.1 26.4,441.6 26.6,446.9 27.0,446.3 27.1,450.6 27.5,444.8 27.7,450.0 28.3,447.0 28.5,449.9 28.9,448.1 29.3,451.4 29.5,446.2 29.7,452.6 29.9,452.3 30.1,452.6 30.3,446.0 30.7,451.7 30.9,452.2 31.1,447.6 31.5,452.6 31.7,447.0 31.9,452.3 32.2,448.8 32.4,450.1 32.6,449.0 32.8,444.9 33.2,455.4 33.6,449.4 33.8,449.8 34.0,448.0 34.2,450.1 34.6,450.8 34.8,450.2 35.2,439.0 35.4,448.2 35.6,442.9 36.0,453.1 36.4,439.8 36.6,451.1 36.8,445.6 37.1,450.0 37.5,451.0 37.9,444.8 38.1,448.9 38.5,442.3 38.7,451.4 38.9,447.0 39.3,450.8 39.5,450.7 39.9,446.3 40.1,449.1 40.5,445.4 40.7,446.6 40.9,444.9 41.1,446.1 41.3,446.0 41.5,442.0 41.8,447.0 42.0,445.2 42.2,450.0 43.0,442.6 43.4,451.5 43.6,441.4 44.0,450.2 44.2,443.1 44.6,452.4 45.2,442.4 45.4,449.4 45.6,447.8 45.8,447.9 46.2,449.8 46.5,444.0 46.9,449.9 47.1,450.6 47.3,446.9 47.9,452.3 48.1,441.6 48.5,450.3 48.9,443.5 49.1,454.6 49.7,445.7 49.9,448.1 50.1,448.4 50.3,448.0 50.7,441.5 51.1,450.7 51.3,440.1 51.4,451.0 52.2,445.3 52.6,451.1 53.2,443.2 53.6,452.8 54.0,444.7 54.4,455.3 55.0,445.8 55.2,452.4 55.4,447.5 55.6,447.2 55.8,451.7 56.0,450.3 56.2,444.6 56.7,449.1 56.9,446.8 57.5,452.9 57.7,450.5 57.9,450.8 58.1,442.5 58.3,451.4 58.5,447.1 58.9,451.6 59.1,447.7 59.3,457.7 59.7,449.0 59.9,458.7 60.3,448.7 60.7,455.3 60.9,453.2 61.1,453.8 61.2,450.2 61.8,454.7 62.2,449.0 62.4,452.0 62.6,451.3 62.8,458.2 63.4,451.7 64.0,458.7 64.2,453.8 64.4,455.2 64.8,455.4 65.8,451.0 66.1,456.1 66.5,453.8 66.7,456.3 67.1,452.1 67.5,460.8 68.1,453.7 68.3,459.7 68.5,450.8 68.9,456.3 69.1,457.0 69.3,455.6 69.7,456.8 69.9,459.3 70.1,452.3 70.3,456.2 70.7,455.8 70.8,463.0 71.0,454.5 71.2,457.1 71.6,455.9 71.8,459.0 72.0,453.7 72.4,458.8 73.0,454.0 73.4,460.7 73.6,453.1 73.8,459.4 74.0,452.7 74.4,458.3 74.6,458.1 75.0,453.7 75.2,456.9 75.6,450.1 75.9,459.7 76.1,459.4 76.3,460.4 76.5,458.2 76.9,460.2 77.1,454.7 77.3,463.9 77.7,450.1 78.3,454.5 78.5,450.5 79.1,459.0 79.3,455.5 79.5,457.3 79.9,457.0 80.1,454.9 80.3,460.0 80.5,451.9 80.6,458.2 81.0,448.6 81.2,453.8 81.4,450.2 81.8,449.6 82.2,457.3 82.4,453.9 82.8,457.5 83.0,454.2 83.4,457.6 83.6,452.0 84.2,455.2 85.0,452.4 85.2,453.4 85.5,450.5 85.9,453.9 86.1,453.7 86.3,450.5 86.5,452.3 86.7,451.8 87.1,459.4 87.3,450.3 87.7,446.9 87.9,457.0 88.1,450.0 88.5,454.3 88.7,447.2 88.9,451.3 89.1,447.7 89.3,448.3 89.5,447.8 89.7,445.7 89.9,449.4 90.1,448.8 90.2,449.9 90.6,442.0 90.8,447.8 91.2,442.6 91.4,444.1 91.6,443.8 91.8,449.1 92.2,441.2 92.6,456.8 92.8,447.8 93.0,444.7 93.2,448.8 93.4,440.8 93.8,450.0 94.0,440.1 94.8,446.0 95.1,442.5 95.5,441.5 95.9,445.3 96.5,439.2 96.9,444.6 97.1,439.5 97.5,441.0 97.7,446.9 98.3,442.3 98.5,447.6 98.7,438.5 98.9,440.6 99.1,439.0 99.3,442.2 99.7,430.5 99.9,437.0 100.2,428.8 100.4,433.8 100.6,431.0 100.8,436.6 101.0,434.3 101.2,442.8 101.6,436.6 101.8,440.8 102.0,439.8 102.2,447.4 102.8,441.5 103.0,444.4 103.2,442.0 103.4,447.5 103.6,443.8 103.8,447.9 104.0,443.6 104.4,446.6 104.7,439.5 104.9,447.9 105.1,446.8 105.3,451.2 105.7,440.0 106.1,445.1 106.5,440.4 106.7,443.7 107.1,445.1 107.3,450.5 107.7,441.7 108.1,444.7 108.3,444.4 108.5,448.0 108.7,445.4 108.9,449.2 109.1,445.4 109.3,448.8 109.5,435.3 109.8,447.9 110.0,445.1 110.4,446.1 110.6,443.3 111.0,452.1 111.6,441.7 112.2,450.5 112.4,445.8 112.8,451.3 113.4,447.5 113.6,457.1 113.8,448.1 114.0,447.5 114.2,448.4 114.5,445.5 114.7,448.9 114.9,443.5 115.1,443.7 115.3,443.4 115.7,428.9 115.9,432.5 116.1,419.4 116.3,420.0 116.5,402.3 116.9,411.5 117.1,395.9 117.5,402.0 117.7,400.7 118.1,422.4 118.9,443.3 119.6,449.6 119.8,457.8 120.2,451.8 120.8,461.6 121.2,453.8 121.8,456.9 122.0,460.5 122.6,448.0 122.8,451.0 123.2,448.9 123.8,429.4 124.7,343.9 126.5,343.9 127.5,435.1 127.9,454.3 128.1,453.0 128.7,465.2 128.9,456.9 129.0,461.9 129.4,457.9 129.6,462.6 129.8,458.7 130.0,459.8 130.4,456.8 130.6,462.4 130.8,457.2 131.0,460.3 131.2,459.7 131.4,460.8 131.6,458.0 131.8,463.9 132.2,457.0 132.4,461.4 132.6,454.7 132.8,462.9 133.0,460.2 133.6,464.4 133.9,461.4 134.1,463.7 134.5,457.1 134.7,466.1 134.9,459.2 135.1,461.2 135.3,461.1 135.5,454.7 136.3,468.5 136.5,459.9 136.7,464.4 136.9,443.9 137.1,462.0 137.5,456.4 138.1,463.2 138.5,460.2 138.7,466.8 138.8,456.5 139.2,466.4 139.4,442.0 139.8,464.7 140.2,453.5 140.6,468.6 141.0,456.9 141.2,460.9 141.6,459.2 141.8,460.9 142.2,467.6 142.4,461.6 142.6,466.2 143.0,457.8 143.4,462.8 143.9,460.3 144.1,466.9 144.5,458.0 145.3,469.2 145.7,458.4 146.1,465.7 146.5,463.5 147.1,465.5 147.5,458.7 147.9,485.1 148.1,459.8 148.3,467.6 148.8,462.8 149.2,466.0 149.4,462.4 150.0,469.4 150.2,461.2 150.4,468.5 150.6,462.1 151.0,461.1 151.2,464.0 151.4,465.1 151.6,463.2 152.0,467.3 152.2,459.8 152.4,466.1 152.6,458.2 153.0,464.9 153.3,459.9 153.5,467.6 153.7,466.3 153.9,466.7 154.3,462.4 154.7,465.8 154.9,465.2 155.1,460.1 155.7,467.5 155.9,461.8 156.3,462.9 156.5,458.6 156.9,466.6 157.3,459.7 157.5,463.1 157.7,461.2 158.1,466.6 158.4,459.0 158.8,467.0 159.8,457.8 160.2,464.9 160.4,463.4 160.8,464.9 161.0,463.6 161.2,463.7 161.4,467.2 161.6,462.1 162.0,466.6 162.2,462.3 162.4,465.2 162.6,458.6 163.1,466.1 163.5,461.4 163.7,465.9 163.9,461.7 164.1,470.1 164.5,461.5 164.9,464.0 165.1,461.0 165.5,466.9 165.9,460.5 166.3,464.6 166.7,462.8 167.1,472.4 167.3,467.2 167.5,468.5 167.7,465.9 167.8,467.7 168.2,462.9 168.6,464.3 168.8,459.3 169.0,465.6 169.4,460.5 169.8,469.1 170.0,460.4 170.2,463.3 170.8,461.6 171.0,465.7 171.2,464.5 171.4,467.6 171.6,463.9 171.8,463.6 172.0,465.6 172.4,455.6 172.6,467.7 172.7,461.9 173.1,461.2 173.3,466.7 173.5,460.8 174.1,465.4 174.5,461.6 174.7,461.8 174.9,457.6 175.1,465.4 175.3,462.5 175.5,465.6 175.7,462.1 176.3,468.3 176.9,460.1 177.3,467.9 177.6,464.3 177.8,464.9 178.0,464.3 178.2,462.3 178.8,470.4 179.0,465.7 179.2,469.7 179.6,463.9 179.8,468.8 180.0,465.3 180.2,465.9 180.4,459.4 180.8,470.6 181.0,463.8 181.6,466.2 181.8,463.4 182.2,462.6 182.3,468.1 182.5,465.9 182.7,469.8 183.1,466.9 183.3,468.4 183.7,460.5 184.3,471.7 184.5,467.8 184.9,471.8 185.1,463.3 185.3,466.8" fill="none" stroke="#000" stroke-width="1.3" stroke-linejoin="round" clip-path="url(#cp20)"/>
<polyline points="59.6,526.9 63.2,526.4 66.5,525.8 69.5,524.9 72.5,523.8 75.4,522.4 78.4,520.7 88.4,514.2 92.2,512.0 94.3,511.1 96.3,510.4 98.3,510.0 100.2,509.9 102.1,510.0 104.1,510.4 106.1,511.1 108.2,512.0 112.0,514.2 122.0,520.7 125.0,522.4 127.9,523.8 130.9,524.9 133.9,525.8 137.2,526.4 140.8,526.9" fill="none" stroke="#000" stroke-width="1.7" stroke-linejoin="round" clip-path="url(#cp20)"/>
<polyline points="60.7,526.9 64.0,526.5 67.0,525.9 69.9,525.2 72.7,524.3 75.5,523.2 78.5,521.8 88.4,516.3 92.1,514.5 94.3,513.7 96.3,513.1 98.3,512.8 100.2,512.7 102.1,512.8 104.1,513.1 106.1,513.7 108.3,514.5 112.0,516.3 121.9,521.8 124.9,523.2 127.7,524.3 130.5,525.2 133.4,525.9 136.4,526.5 139.7,526.9" fill="none" stroke="#e00000" stroke-width="1.7" stroke-linejoin="round" clip-path="url(#cp20)"/>
<line x1="15.0" y1="527.55" x2="185.4" y2="527.55" stroke="#ff00ff" stroke-width="1.5"/>
<polyline points="15.0,523.8 31.6,521.2 40.2,519.7 43.2,519.4 45.8,519.2 50.4,519.5 56.2,520.4 64.5,522.1 74.6,524.8 82.2,526.7 84.7,527.1 89.3,527.4 91.5,527.4 94.0,527.1 115.9,523.5 119.2,523.1 122.3,523.2 136.0,524.8 140.6,525.0 142.7,524.9 144.9,524.5 152.3,522.7 155.1,522.1 162.3,521.3 167.1,520.9 171.5,520.8 175.9,521.1 180.5,521.7 185.4,522.6" fill="none" stroke="#6b7a3a" stroke-width="1.2" stroke-linejoin="round" clip-path="url(#cp20)"/>
<polyline points="97.8,527.3 98.3,526.6 98.7,525.1 99.8,516.6 100.0,515.5 100.2,515.1 100.4,515.5 100.6,516.6 101.7,525.1 102.1,526.6 102.6,527.3" fill="none" stroke="#bb8c1c" stroke-width="1.4" stroke-linejoin="round" clip-path="url(#cp20)"/>
<polyline points="114.6,527.3 115.0,526.6 115.3,525.2 115.7,519.9 116.9,486.2 117.1,482.4 117.3,481.1 117.5,482.4 117.7,486.2 118.9,519.9 119.3,525.2 119.6,526.6 120.0,527.3" fill="none" stroke="#bb8c1c" stroke-width="1.4" stroke-linejoin="round" clip-path="url(#cp20)"/>
<polyline points="122.8,527.3 123.1,526.7 123.3,525.8 123.6,522.0 124.1,504.8 124.5,472.5 125.3,387.7 125.5,375.0 125.7,370.4 125.9,375.0 126.1,387.7 126.9,472.5 127.4,504.8 127.9,522.0 128.2,525.8 128.4,526.7 128.7,527.3" fill="none" stroke="#bb8c1c" stroke-width="1.4" stroke-linejoin="round" clip-path="url(#cp20)"/>
<polyline points="15.0,452.7 33.4,452.7 35.2,452.5 39.3,451.6 42.4,451.1 44.7,450.9 46.7,450.9 50.5,451.4 57.1,452.9 61.0,454.0 65.7,455.8 67.6,456.3 69.1,456.4 76.4,456.4 77.2,456.3 78.8,455.6 81.7,453.6 83.0,452.9 87.5,451.7 88.3,451.0 90.1,448.8 90.9,448.0 91.6,447.7 93.6,447.4 94.3,447.2 95.0,446.7 96.8,444.9 98.3,444.2 98.7,443.4 99.0,441.9 99.9,433.2 100.2,431.7 100.5,433.2 101.4,441.9 101.7,443.3 102.0,444.1 102.5,444.4 104.6,444.9 106.8,445.7 113.0,448.3 113.4,448.4 113.8,448.3 114.3,447.5 114.8,445.8 115.1,443.2 115.4,439.2 115.9,427.7 116.8,398.5 117.0,394.5 117.2,393.1 117.4,394.6 117.6,399.0 118.6,436.2 119.1,449.2 119.5,452.6 119.9,454.6 120.3,455.3 120.8,455.8 121.3,456.0 121.7,455.8 122.1,455.2 122.4,454.1 122.9,450.2 123.3,443.8 123.6,434.0 124.1,403.9 124.7,343.9 126.6,343.9 127.1,406.6 127.5,437.5 128.0,453.2 128.4,456.9 128.8,458.6 129.1,459.1 129.6,459.4 134.8,461.6 136.8,462.3 139.0,462.6 145.9,463.2 172.3,464.6 179.3,464.9 185.4,465.0" fill="none" stroke="#ff00ff" stroke-width="1.9" stroke-linejoin="round" clip-path="url(#cp20)"/>
<polyline points="15.0,456.5 185.4,470.3" fill="none" stroke="#787878" stroke-width="1.3" stroke-linejoin="round" clip-path="url(#cp20)"/>
<polyline points="113.5,527.3 114.1,526.5 114.6,525.0 116.1,515.4 116.4,514.2 116.7,513.8 117.0,514.2 117.2,515.4 118.7,525.0 119.3,526.5 119.9,527.3" fill="none" stroke="#ff00ff" stroke-width="1.7" stroke-linejoin="round" clip-path="url(#cp20)"/>
<polyline points="121.4,527.3 121.9,526.7 122.3,525.4 122.9,520.5 123.5,512.0 124.6,489.4 124.9,485.6 125.2,484.3 125.5,485.6 125.8,489.4 126.9,512.0 127.5,520.5 128.1,525.4 128.5,526.7 129.0,527.3" fill="none" stroke="#ff00ff" stroke-width="1.7" stroke-linejoin="round" clip-path="url(#cp20)"/>
<polyline points="185.4,440.2 185.6,438.7 185.8,447.3 186.2,440.3 186.4,439.6 186.6,441.0 186.8,439.4 187.6,444.5 187.9,441.7 188.1,443.6 188.3,440.0 188.7,439.0 188.9,442.6 189.1,439.8 189.3,444.3 189.9,442.0 190.3,446.0 190.5,441.9 190.7,444.4 190.9,440.3 191.1,441.9 191.5,442.3 191.7,441.0 191.9,443.1 192.1,440.7 192.3,443.8 192.5,443.3 192.7,444.2 192.8,441.7 193.2,444.6 193.4,439.0 193.6,443.7 194.2,439.6 194.4,439.8 195.0,446.0 195.4,441.1 196.2,446.2 196.6,442.0 196.8,444.2 197.2,441.4 197.4,443.2 197.7,440.5 197.9,445.9 198.1,442.0 198.3,446.0 198.5,442.6 199.1,445.7 199.3,443.7 199.5,444.4 199.7,443.4 199.9,445.4 200.1,442.6 200.3,445.7 200.5,444.3 200.7,444.5 200.9,441.3 201.1,446.7 201.5,441.5 201.9,446.3 202.1,443.3 202.3,444.5 202.4,442.3 202.6,445.8 203.2,442.0 203.4,446.3 203.6,441.3 204.0,447.1 204.4,443.9 204.6,444.9 205.0,443.3 205.4,444.9 205.6,440.8 205.8,448.8 206.2,445.5 206.6,449.6 207.0,446.1 207.2,449.5 207.5,442.2 208.1,449.4 208.5,444.5 208.7,446.2 208.9,444.1 209.1,445.6 209.3,443.0 209.5,443.4 209.7,442.6 210.1,448.7 210.3,444.3 210.5,446.3 210.7,444.4 211.1,444.9 211.3,443.5 211.7,444.4 211.9,447.1 212.1,442.0 212.2,445.2 212.4,443.3 212.6,444.9 212.8,443.0 213.0,445.2 213.4,445.3 213.6,447.0 214.2,445.9 214.4,447.7 214.6,441.1 214.8,447.7 215.2,441.0 215.4,447.2 215.6,444.4 215.8,444.6 216.4,449.0 216.8,445.2 216.9,450.3 217.1,445.8 217.3,447.4 217.5,444.4 217.9,447.8 218.3,446.1 218.7,440.3 218.9,445.6 219.1,446.1 219.3,445.0 219.5,446.3 219.7,445.0 220.3,447.9 220.7,444.6 220.9,446.2 221.1,443.4 221.5,446.7 221.7,443.0 221.8,448.7 222.2,442.9 222.4,447.0 223.0,443.7 223.2,445.7 223.4,438.6 224.0,449.0 224.4,443.5 224.6,449.5 224.8,445.8 225.0,448.1 225.2,445.1 225.4,449.5 225.6,448.4 225.8,449.5 226.0,444.1 226.6,443.7 226.9,444.8 227.1,449.8 227.3,445.8 227.9,448.8 228.1,443.8 228.5,449.3 228.7,445.3 229.1,448.3 229.3,446.9 229.5,447.8 229.7,450.8 230.1,445.3 230.5,445.7 230.7,454.4 230.9,447.4 231.3,444.8 231.6,448.2 231.8,443.9 232.0,446.0 232.4,447.5 232.6,447.3 232.8,442.9 233.4,448.4 233.6,442.7 234.2,444.3 234.4,449.6 234.8,444.8 235.0,446.5 235.2,445.5 235.6,447.4 235.8,445.0 236.0,447.0 236.3,445.8 236.5,446.0 236.9,443.9 237.1,449.4 237.3,447.3 237.5,448.1 237.7,445.5 237.9,449.1 238.1,445.6 238.5,446.2 238.7,449.3 238.9,447.9 239.1,449.7 239.5,445.8 239.7,450.7 240.1,448.1 240.3,448.9 240.5,444.9 241.1,450.0 241.2,444.8 241.4,447.5 241.6,446.3 241.8,447.6 242.0,452.0 242.4,450.3 242.6,446.9 242.8,448.8 243.0,446.9 243.4,447.3 243.6,445.9 244.0,452.5 244.4,444.4 244.6,449.8 245.0,444.4 245.2,448.8 245.4,446.9 245.6,450.4 245.8,446.1 246.1,450.1 246.3,448.3 246.7,448.6 246.9,447.1 247.3,448.7 247.7,442.6 248.1,448.6 248.3,449.1 248.5,446.0 248.7,447.5 248.9,446.9 249.1,450.8 249.5,449.0 249.7,444.8 250.1,451.3 250.3,445.4 250.7,443.6 250.9,451.5 251.2,444.2 251.8,449.0 252.4,443.9 252.6,443.7 252.8,445.3 253.0,443.0 253.2,446.6 253.8,443.0 254.0,444.7 254.2,441.5 254.6,445.5 254.8,443.4 255.0,445.2 255.4,446.0 255.6,440.3 255.7,441.2 255.9,439.0 256.5,443.3 256.9,437.9 257.1,441.7 257.5,439.8 257.9,444.3 258.1,444.5 258.5,439.8 258.9,443.9 259.1,440.7 259.3,441.7 259.5,439.7 259.7,441.0 260.3,440.3 260.6,442.3 261.0,433.8 261.4,442.9 261.8,437.1 262.0,442.5 262.2,440.2 262.4,439.9 262.6,440.8 262.8,440.5 263.0,436.8 263.2,439.6 263.4,439.0 263.6,435.1 264.0,442.0 264.4,434.1 265.0,440.3 265.4,434.6 266.1,439.5 266.3,439.1 266.5,439.2 266.7,435.6 266.9,438.2 267.3,435.1 267.5,435.0 267.7,436.1 267.9,435.2 268.3,439.7 268.5,436.0 268.7,436.6 268.9,436.3 269.1,435.1 269.3,436.6 269.5,433.0 269.7,435.7 270.1,434.6 270.3,435.5 270.6,433.6 271.2,436.9 271.6,435.3 271.8,439.1 272.0,437.2 272.2,437.9 272.4,437.1 272.6,437.7 272.8,434.5 273.0,435.4 273.2,434.6 273.4,438.6 273.6,438.4 274.0,434.0 274.4,438.9 274.8,433.9 275.0,440.4 275.3,436.3 275.7,441.2 275.9,436.5 276.5,442.5 276.9,437.9 277.5,441.7 277.7,438.4 277.9,442.1 278.1,440.0 278.5,444.2 278.7,439.6 278.9,445.3 279.3,443.0 279.7,447.3 279.9,444.3 280.0,445.1 280.2,445.1 280.4,443.8 280.6,438.0 280.8,446.1 281.0,440.6 281.6,451.4 281.8,449.3 282.0,451.9 282.2,445.6 282.4,448.5 282.8,445.5 283.2,450.8 284.0,446.8 284.2,455.9 284.4,448.6 284.6,449.4 284.8,449.0 285.1,446.8 285.3,450.5 285.7,451.2 286.3,450.6 286.9,453.0 287.3,446.1 287.5,449.9 287.7,449.9 288.1,451.7 288.3,447.5 288.7,453.5 288.9,454.1 289.1,451.4 289.3,453.7 289.7,453.6 289.8,454.6 290.0,451.7 290.2,455.4 290.4,447.7 290.6,457.6 291.2,451.5 291.4,453.1 291.6,451.9 292.0,452.3 292.2,451.4 292.8,453.0 293.0,451.0 293.2,453.1 293.6,449.7 293.8,452.1 294.0,450.5 294.2,453.8 294.5,452.0 294.7,452.6 294.9,452.1 295.1,450.4 295.3,453.8 295.5,454.5 295.7,452.6 295.9,456.1 296.3,451.0 296.5,453.4 296.7,452.3 296.9,452.7 297.1,451.1 297.5,453.1 297.7,460.1 298.1,452.2 298.5,455.1 298.7,451.9 298.9,455.4 299.3,452.4 299.4,454.8 299.6,453.5 299.8,453.9 300.0,456.2 300.2,454.9 300.4,454.6 300.6,455.2 301.0,454.0 301.2,451.2 301.4,456.8 301.8,451.5 302.0,454.7 302.2,452.6 302.8,456.0 303.0,453.1 303.2,457.5 303.4,453.1 303.6,456.6 303.8,452.6 304.0,455.0 304.3,452.2 304.5,456.3 304.7,454.2 304.9,455.0 305.3,453.0 305.9,455.2 306.1,453.2 306.3,454.9 306.7,454.1 306.9,457.2 307.7,452.1 307.9,459.4 308.3,452.5 308.5,454.5 308.7,453.2 309.1,454.9 309.2,453.0 309.6,459.2 309.8,453.9 310.2,454.7 310.6,453.7 310.8,455.9 311.0,454.1 311.2,454.4 311.4,457.3 311.8,454.6 312.0,456.7 312.2,453.1 312.4,455.8 312.8,452.4 313.0,458.2 313.4,454.2 313.6,455.7 313.9,452.0 314.1,456.4 314.3,453.8 314.7,456.8 314.9,454.6 315.1,455.1 315.3,453.5 315.5,455.1 315.7,454.0 316.1,459.1 316.7,454.1 316.9,457.9 317.1,455.6 317.5,459.6 317.9,454.8 318.1,456.8 318.3,454.3 318.8,457.3 319.2,455.4 319.6,458.8 320.2,454.3 320.6,458.6 320.8,455.3 321.0,459.9 321.2,458.0 321.4,458.4 321.6,453.9 322.2,458.2 322.4,454.6 322.6,457.6 323.0,455.1 323.2,457.9 323.4,456.3 323.6,461.3 323.7,456.4 323.9,460.9 324.1,456.8 324.3,457.1 324.5,456.8 324.7,453.3 324.9,462.8 325.1,457.1 325.3,458.8 325.5,456.6 326.3,459.8 326.5,457.8 326.7,461.5 326.9,456.5 327.1,459.8 327.3,457.9 327.5,461.2 327.7,458.0 327.9,459.4 328.3,456.7 328.5,460.3 329.0,456.5 329.2,462.0 329.4,458.4 329.8,462.0 330.0,460.4 330.2,461.1 330.4,457.7 330.6,461.8 330.8,458.0 331.0,460.9 331.2,458.8 331.4,463.5 331.8,458.1 332.2,463.4 332.6,458.9 333.0,461.0 333.2,459.8 333.3,461.5 333.7,458.5 333.9,463.2 334.1,458.7 334.5,460.3 335.1,457.2 335.5,461.5 335.7,458.4 335.9,464.4 336.1,459.4 336.3,459.8 336.5,459.3 336.7,463.0 336.9,458.4 337.5,464.2 337.7,460.8 338.1,464.6 338.4,457.0 338.6,464.5 339.2,459.9 339.6,463.8 339.8,460.1 340.0,461.4 340.2,459.5 340.4,464.3 340.8,460.3 341.2,464.4 341.4,461.9 341.6,465.9 342.2,460.6 342.4,461.6 342.6,461.0 342.8,465.4 343.3,458.0 343.7,464.4 343.9,464.5 344.1,460.3 344.5,465.1 344.9,460.0 345.3,458.8 345.5,463.2 345.7,461.9 346.1,466.1 346.5,460.6 346.9,462.1 347.3,466.9 347.9,461.2 348.4,466.8 348.6,467.4 348.8,463.4 349.4,467.9 349.6,461.9 349.8,467.0 350.0,463.5 350.2,466.5 350.6,461.0 351.0,463.4 351.6,461.0 351.8,466.6 352.0,461.1 352.4,465.8 352.6,462.6 352.9,463.8 353.1,462.1 353.5,467.0 353.9,461.6 354.5,465.0 354.9,461.5 355.1,464.8 355.3,464.9 355.7,462.5" fill="none" stroke="#000" stroke-width="1.3" stroke-linejoin="round" clip-path="url(#cp21)"/>
<polyline points="185.4,442.2 192.8,442.9 201.0,443.8 213.5,445.6 222.3,446.7 226.3,446.8 232.3,446.0 234.6,445.9 236.0,446.2 238.8,447.4 240.1,447.8 242.4,447.8 245.8,447.6 247.9,447.3 249.8,446.5 255.5,443.1 268.4,435.9 269.9,435.3 271.1,435.1 272.2,435.6 273.5,436.7 277.2,440.8 280.7,445.1 282.4,446.8 284.8,449.0 286.4,450.3 287.9,451.2 289.3,451.7 292.4,452.6 296.1,453.3 308.9,454.7 314.3,455.4 319.0,456.3 323.1,457.3 331.8,460.4 339.2,461.8 348.3,463.2 352.2,463.5 355.8,463.6" fill="none" stroke="#ff00ff" stroke-width="1.9" stroke-linejoin="round" clip-path="url(#cp21)"/>
<polyline points="185.4,450.5 355.8,462.9" fill="none" stroke="#787878" stroke-width="1.3" stroke-linejoin="round" clip-path="url(#cp21)"/>
<polyline points="185.4,519.5 207.0,520.8 229.7,521.5 237.7,521.4 253.7,520.6 261.0,520.7 307.8,524.1 355.8,527.3" fill="none" stroke="#6b7a3a" stroke-width="1.2" stroke-linejoin="round" clip-path="url(#cp21)"/>
<polyline points="185.4,527.6 227.8,527.5 240.4,527.4 250.3,527.1 266.0,526.0 272.0,525.9 278.1,526.0 293.7,527.1 303.4,527.4 315.8,527.5 355.8,527.6" fill="none" stroke="#e00000" stroke-width="1.7" stroke-linejoin="round" clip-path="url(#cp21)"/>
<polyline points="185.4,527.6 249.0,527.5 253.1,527.5 255.7,527.3 257.2,527.0 258.6,526.5 259.8,525.9 261.0,525.2 263.2,523.0 266.9,518.5 268.3,517.0 269.8,515.9 270.5,515.7 271.2,515.6 271.8,515.7 272.6,515.9 274.0,517.0 275.4,518.5 279.1,523.0 281.4,525.2 282.5,525.9 283.8,526.5 285.1,527.0 286.6,527.3 289.2,527.5 293.3,527.5 355.8,527.6" fill="none" stroke="#000" stroke-width="1.7" stroke-linejoin="round" clip-path="url(#cp21)"/>
<polyline points="185.4,527.6 238.2,527.5 248.2,527.2 251.6,526.9 254.1,526.6 255.9,526.1 257.5,525.6 259.0,524.8 260.3,523.8 261.6,522.6 262.8,521.2 266.8,515.6 268.2,513.9 269.7,512.7 270.4,512.3 271.1,512.2 271.8,512.3 272.6,512.6 274.1,513.9 275.5,515.7 279.4,521.1 280.7,522.6 281.9,523.8 283.3,524.7 284.7,525.5 286.2,526.0 288.1,526.5 290.7,526.8 294.4,527.1 305.0,527.5 355.8,527.6" fill="none" stroke="#000" stroke-width="1.7" stroke-linejoin="round" clip-path="url(#cp21)"/>
<line x1="185.4" y1="527.55" x2="355.8" y2="527.55" stroke="#c39a2a" stroke-width="1.5"/>
<polyline points="355.8,178.2 361.8,178.5 368.4,178.5 377.0,178.3 386.1,177.9 390.6,177.2 396.2,175.7 397.3,175.1 398.5,174.0 401.8,170.0 404.4,165.6 407.0,160.3 410.1,152.7 412.3,146.4 415.1,137.4 419.9,119.4 421.6,113.7 423.7,107.4 425.8,102.2 427.7,98.4 429.6,95.8 430.7,94.5 431.7,93.7 432.6,93.1 433.4,93.0 434.1,93.1 434.8,93.4 436.2,94.6 438.0,97.1 439.1,99.4 441.0,104.5 449.3,130.2 451.9,136.5 454.6,142.2 457.0,146.4 459.7,150.3 463.3,154.8 466.7,158.3 473.3,163.9 475.6,165.7 477.8,167.2 479.7,168.2 485.1,170.8 488.5,172.2 491.6,173.3 494.5,174.2 500.9,175.8 508.0,177.2 518.1,178.0 526.2,178.2" fill="none" stroke="#787878" stroke-width="2.0" stroke-linejoin="round" clip-path="url(#cp02)"/>
<polyline points="355.8,173.3 363.9,170.8 376.8,166.3 382.6,164.0 387.4,161.7 390.6,159.8 394.4,157.1 407.9,147.1 410.2,145.2 412.0,143.5 413.6,141.8 414.9,140.0 415.8,138.4 416.7,136.2 418.4,131.4 421.2,122.3 424.2,109.5 425.3,105.7 426.8,101.8 427.9,99.4 428.9,98.0 429.4,97.7 429.8,97.5 430.4,97.7 431.1,98.3 432.7,100.7 435.4,105.9 439.4,115.2 442.5,120.9 443.7,122.7 444.8,124.0 445.8,125.0 447.2,126.2 453.8,130.2 458.0,133.5 465.2,139.7 474.3,148.2 478.3,151.7 483.1,155.1 488.5,158.5 493.8,161.3 500.9,164.8 507.2,167.5 513.4,169.8 520.5,172.2 526.2,173.7" fill="none" stroke="#000" stroke-width="2.0" stroke-linejoin="round" clip-path="url(#cp02)"/>
<polyline points="355.8,348.1 361.8,347.6 368.6,346.9 390.3,343.5 396.0,342.2 402.7,340.3 405.2,339.3 407.8,337.8 410.5,336.0 413.3,333.7 416.7,330.7 419.1,328.2 420.6,326.2 422.4,323.6 429.6,311.8 436.5,302.0 440.6,296.6 442.1,294.8 443.7,293.5 444.4,293.3 445.1,293.1 445.8,293.2 446.6,293.5 448.3,294.7 450.2,296.7 452.6,299.7 454.9,303.5 460.6,314.8 465.8,323.4 468.5,327.5 470.1,329.3 473.4,332.4 476.5,334.9 479.4,337.0 482.5,338.9 485.5,340.3 494.6,343.6 500.6,345.3 504.3,345.9 514.9,347.1 520.9,347.5 526.2,347.5" fill="none" stroke="#787878" stroke-width="2.0" stroke-linejoin="round" clip-path="url(#cp12)"/>
<polyline points="355.8,345.0 359.7,344.4 364.3,343.2 372.4,340.7 376.7,339.1 381.8,336.8 387.7,333.8 391.4,331.5 395.5,328.7 404.0,322.0 413.7,312.9 417.6,309.6 420.3,307.7 423.6,305.7 430.8,301.3 435.7,298.7 438.0,296.9 439.0,295.8 440.1,294.0 446.9,281.0 448.5,278.2 449.9,276.2 450.9,274.9 451.9,274.1 452.8,273.8 453.6,274.1 454.6,275.1 455.8,277.2 457.0,279.7 458.3,283.9 460.9,294.4 461.9,298.2 462.8,300.6 465.3,306.8 467.0,310.4 468.5,313.2 469.9,315.1 471.6,316.9 475.9,320.7 480.5,323.9 489.6,329.5 505.3,338.5 509.8,340.7 516.9,343.4 521.8,345.0 526.2,346.0" fill="none" stroke="#000" stroke-width="2.0" stroke-linejoin="round" clip-path="url(#cp12)"/>
<polyline points="355.8,510.5 361.9,510.6 368.8,510.5 379.2,510.1 387.5,509.5 392.4,508.8 397.4,507.7 402.5,506.3 404.4,505.4 406.1,504.0 414.0,496.9 416.1,494.7 418.0,492.3 419.9,489.0 423.9,480.4 433.8,460.5 435.6,457.1 437.2,454.7 438.7,453.1 440.2,452.0 440.9,451.8 441.7,451.7 442.5,451.8 443.4,452.1 445.4,453.4 447.6,455.7 449.7,458.5 451.2,461.1 452.8,464.5 462.1,486.6 464.1,490.9 466.7,495.7 468.6,498.5 470.0,500.0 472.6,501.9 475.8,503.9 478.7,505.1 487.0,507.2 492.2,508.2 500.1,508.9 511.3,509.6 519.2,509.9 526.2,509.8" fill="none" stroke="#787878" stroke-width="2.0" stroke-linejoin="round" clip-path="url(#cp22)"/>
<polyline points="355.8,508.6 359.2,507.9 362.9,506.8 367.3,505.2 373.1,502.7 376.1,501.2 379.3,499.3 387.4,493.6 390.6,491.1 394.1,488.0 403.0,479.5 406.5,475.8 415.2,466.0 423.1,457.4 427.7,452.7 429.4,451.3 431.4,449.9 435.5,447.2 438.4,446.0 439.8,445.7 441.0,445.6 442.2,445.7 443.6,446.0 445.0,446.5 446.6,447.3 448.8,448.6 451.8,450.7 454.6,453.0 458.6,457.0 467.1,466.2 476.8,477.2 484.5,485.1 490.4,491.0 492.8,493.2 495.1,495.0 499.2,497.9 502.6,500.2 505.8,502.0 508.8,503.5 514.5,505.6 519.0,507.1 522.8,508.1 526.2,508.6" fill="none" stroke="#000" stroke-width="2.0" stroke-linejoin="round" clip-path="url(#cp22)"/>
<line x1="100.20" y1="23.50" x2="100.20" y2="193.70" stroke="#000" stroke-width="1.2" stroke-dasharray="9.5 2.2 1.2 3.1" stroke-dashoffset="3.6"/>
<line x1="270.60" y1="23.50" x2="270.60" y2="193.70" stroke="#000" stroke-width="1.2" stroke-dasharray="9.5 2.2 1.2 3.1" stroke-dashoffset="3.6"/>
<line x1="441.00" y1="23.50" x2="441.00" y2="193.70" stroke="#000" stroke-width="1.2" stroke-dasharray="9.5 2.2 1.2 3.1" stroke-dashoffset="3.6"/>
<line x1="100.20" y1="193.70" x2="100.20" y2="363.90" stroke="#000" stroke-width="1.2" stroke-dasharray="9.5 2.2 1.2 3.1" stroke-dashoffset="3.6"/>
<line x1="270.60" y1="193.70" x2="270.60" y2="363.90" stroke="#000" stroke-width="1.2" stroke-dasharray="9.5 2.2 1.2 3.1" stroke-dashoffset="3.6"/>
<line x1="441.00" y1="193.70" x2="441.00" y2="363.90" stroke="#000" stroke-width="1.2" stroke-dasharray="9.5 2.2 1.2 3.1" stroke-dashoffset="3.6"/>
<line x1="100.20" y1="363.90" x2="100.20" y2="534.10" stroke="#000" stroke-width="1.2" stroke-dasharray="9.5 2.2 1.2 3.1" stroke-dashoffset="3.6"/>
<line x1="270.60" y1="363.90" x2="270.60" y2="534.10" stroke="#000" stroke-width="1.2" stroke-dasharray="9.5 2.2 1.2 3.1" stroke-dashoffset="3.6"/>
<line x1="441.00" y1="363.90" x2="441.00" y2="534.10" stroke="#000" stroke-width="1.2" stroke-dasharray="9.5 2.2 1.2 3.1" stroke-dashoffset="3.6"/>
<text transform="translate(97.50 9.80) scale(1.100 1)" font-size="8.9" text-anchor="start" font-family="'Liberation Sans', Arial, Helvetica, sans-serif" stroke="#000" stroke-width="0.5" >H<tspan font-style="italic" font-weight="bold">&#946;</tspan></text>
<text transform="translate(268.00 9.80) scale(1.100 1)" font-size="8.9" text-anchor="start" font-family="'Liberation Sans', Arial, Helvetica, sans-serif" stroke="#000" stroke-width="0.5" >MgII</text>
<text transform="translate(435.00 10.90) scale(1.100 1)" font-size="8.9" text-anchor="start" font-family="'Liberation Sans', Arial, Helvetica, sans-serif" stroke="#000" stroke-width="0.5" >H<tspan font-style="italic" font-weight="bold">&#946;</tspan>&#160;&#160;vs&#160;&#160;MgII</text>
<text transform="translate(9.20 190.85) scale(1.100 1)" font-size="10.2" text-anchor="end" font-family="'Liberation Sans', Arial, Helvetica, sans-serif" stroke="#000" stroke-width="0.42" >0</text>
<text transform="translate(9.20 125.39) scale(1.100 1)" font-size="10.2" text-anchor="end" font-family="'Liberation Sans', Arial, Helvetica, sans-serif" stroke="#000" stroke-width="0.42" >1</text>
<text transform="translate(9.20 59.93) scale(1.100 1)" font-size="10.2" text-anchor="end" font-family="'Liberation Sans', Arial, Helvetica, sans-serif" stroke="#000" stroke-width="0.42" >2</text>
<text transform="translate(9.20 361.05) scale(1.100 1)" font-size="10.2" text-anchor="end" font-family="'Liberation Sans', Arial, Helvetica, sans-serif" stroke="#000" stroke-width="0.42" >0</text>
<text transform="translate(9.20 295.59) scale(1.100 1)" font-size="10.2" text-anchor="end" font-family="'Liberation Sans', Arial, Helvetica, sans-serif" stroke="#000" stroke-width="0.42" >1</text>
<text transform="translate(9.20 230.13) scale(1.100 1)" font-size="10.2" text-anchor="end" font-family="'Liberation Sans', Arial, Helvetica, sans-serif" stroke="#000" stroke-width="0.42" >2</text>
<text transform="translate(9.20 531.25) scale(1.100 1)" font-size="10.2" text-anchor="end" font-family="'Liberation Sans', Arial, Helvetica, sans-serif" stroke="#000" stroke-width="0.42" >0</text>
<text transform="translate(9.20 465.79) scale(1.100 1)" font-size="10.2" text-anchor="end" font-family="'Liberation Sans', Arial, Helvetica, sans-serif" stroke="#000" stroke-width="0.42" >1</text>
<text transform="translate(9.20 400.33) scale(1.100 1)" font-size="10.2" text-anchor="end" font-family="'Liberation Sans', Arial, Helvetica, sans-serif" stroke="#000" stroke-width="0.42" >2</text>
<text transform="translate(532.20 182.03) scale(1.100 1)" font-size="10.2" text-anchor="start" font-family="'Liberation Sans', Arial, Helvetica, sans-serif" stroke="#000" stroke-width="0.42" >0</text>
<text transform="translate(532.20 104.66) scale(1.100 1)" font-size="10.2" text-anchor="start" font-family="'Liberation Sans', Arial, Helvetica, sans-serif" stroke="#000" stroke-width="0.42" >0.5</text>
<text transform="translate(532.20 27.30) scale(1.100 1)" font-size="10.2" text-anchor="start" font-family="'Liberation Sans', Arial, Helvetica, sans-serif" stroke="#000" stroke-width="0.42" >1</text>
<text transform="translate(532.20 352.23) scale(1.100 1)" font-size="10.2" text-anchor="start" font-family="'Liberation Sans', Arial, Helvetica, sans-serif" stroke="#000" stroke-width="0.42" >0</text>
<text transform="translate(532.20 274.86) scale(1.100 1)" font-size="10.2" text-anchor="start" font-family="'Liberation Sans', Arial, Helvetica, sans-serif" stroke="#000" stroke-width="0.42" >0.5</text>
<text transform="translate(532.20 197.50) scale(1.100 1)" font-size="10.2" text-anchor="start" font-family="'Liberation Sans', Arial, Helvetica, sans-serif" stroke="#000" stroke-width="0.42" >1</text>
<text transform="translate(532.20 513.59) scale(1.100 1)" font-size="10.2" text-anchor="start" font-family="'Liberation Sans', Arial, Helvetica, sans-serif" stroke="#000" stroke-width="0.42" >0</text>
<text transform="translate(532.20 392.01) scale(1.100 1)" font-size="10.2" text-anchor="start" font-family="'Liberation Sans', Arial, Helvetica, sans-serif" stroke="#000" stroke-width="0.42" >0.5</text>
<text transform="translate(43.40 548.10) scale(1.100 1)" font-size="10.2" text-anchor="middle" font-family="'Liberation Sans', Arial, Helvetica, sans-serif" stroke="#000" stroke-width="0.42" >&#8722;20000</text>
<text transform="translate(100.20 548.10) scale(1.100 1)" font-size="10.2" text-anchor="middle" font-family="'Liberation Sans', Arial, Helvetica, sans-serif" stroke="#000" stroke-width="0.42" >0</text>
<text transform="translate(157.00 548.10) scale(1.100 1)" font-size="10.2" text-anchor="middle" font-family="'Liberation Sans', Arial, Helvetica, sans-serif" stroke="#000" stroke-width="0.42" >20000</text>
<text transform="translate(100.40 560.70) scale(1.100 1)" font-size="10.2" text-anchor="middle" font-family="'Liberation Sans', Arial, Helvetica, sans-serif" stroke="#000" stroke-width="0.42" >&#916;v<tspan font-size="6.5" dy="1.8">r</tspan><tspan dy="-1.8">&#160;[km&#160;&#160;s</tspan><tspan font-size="6.5" dy="-3.2">&#8722;1</tspan><tspan dy="3.2">]</tspan></text>
<text transform="translate(213.80 548.10) scale(1.100 1)" font-size="10.2" text-anchor="middle" font-family="'Liberation Sans', Arial, Helvetica, sans-serif" stroke="#000" stroke-width="0.42" >&#8722;20000</text>
<text transform="translate(270.60 548.10) scale(1.100 1)" font-size="10.2" text-anchor="middle" font-family="'Liberation Sans', Arial, Helvetica, sans-serif" stroke="#000" stroke-width="0.42" >0</text>
<text transform="translate(327.40 548.10) scale(1.100 1)" font-size="10.2" text-anchor="middle" font-family="'Liberation Sans', Arial, Helvetica, sans-serif" stroke="#000" stroke-width="0.42" >20000</text>
<text transform="translate(270.80 560.70) scale(1.100 1)" font-size="10.2" text-anchor="middle" font-family="'Liberation Sans', Arial, Helvetica, sans-serif" stroke="#000" stroke-width="0.42" >&#916;v<tspan font-size="6.5" dy="1.8">r</tspan><tspan dy="-1.8">&#160;[km&#160;&#160;s</tspan><tspan font-size="6.5" dy="-3.2">&#8722;1</tspan><tspan dy="3.2">]</tspan></text>
<text transform="translate(384.20 548.10) scale(1.100 1)" font-size="10.2" text-anchor="middle" font-family="'Liberation Sans', Arial, Helvetica, sans-serif" stroke="#000" stroke-width="0.42" >&#8722;10000</text>
<text transform="translate(441.00 548.10) scale(1.100 1)" font-size="10.2" text-anchor="middle" font-family="'Liberation Sans', Arial, Helvetica, sans-serif" stroke="#000" stroke-width="0.42" >0</text>
<text transform="translate(497.80 548.10) scale(1.100 1)" font-size="10.2" text-anchor="middle" font-family="'Liberation Sans', Arial, Helvetica, sans-serif" stroke="#000" stroke-width="0.42" >10000</text>
<text transform="translate(37.50 56.40) scale(1.110 1)" font-size="10.05" text-anchor="start" font-family="'Liberation Sans', Arial, Helvetica, sans-serif" stroke="#000" stroke-width="0.3" >J155330</text>
<text transform="translate(47.90 227.00) scale(1.110 1)" font-size="10.05" text-anchor="start" font-family="'Liberation Sans', Arial, Helvetica, sans-serif" stroke="#000" stroke-width="0.3" >J130028</text>
<text transform="translate(37.60 397.60) scale(1.110 1)" font-size="10.05" text-anchor="start" font-family="'Liberation Sans', Arial, Helvetica, sans-serif" stroke="#000" stroke-width="0.3" >J141312</text></svg></body></html>
